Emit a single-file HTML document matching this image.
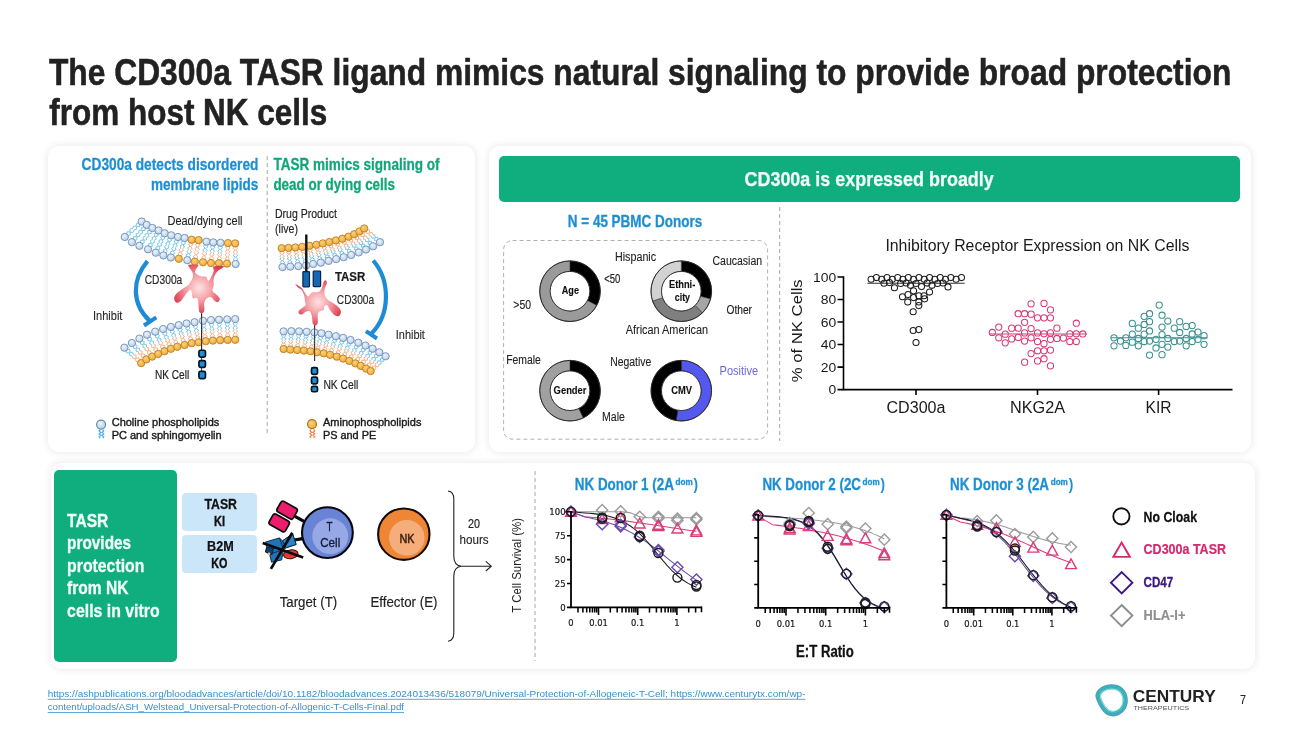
<!DOCTYPE html>
<html lang="en"><head><meta charset="utf-8"><title>The CD300a TASR ligand mimics natural signaling</title>
<style>
html,body{margin:0;padding:0;background:#fff}
body{width:1300px;height:731px;overflow:hidden;position:relative;font-family:"Liberation Sans",sans-serif}
.card{position:absolute;background:#fff;border-radius:11px;box-shadow:0 0 9px rgba(0,0,0,.10)}
.blk{position:absolute;background:#10ad7e;border-radius:5px}
.lb{position:absolute;background:#cbe6f9;border-radius:4px}
svg text{font-family:"Liberation Sans",sans-serif}
</style></head><body>
<div class="card" style="left:48.3px;top:146px;width:427.1px;height:305.5px"></div>
<div class="card" style="left:488.8px;top:146px;width:762.4px;height:305.5px"></div>
<div class="card" style="left:50.5px;top:462.8px;width:1204px;height:205.8px"></div>
<div class="blk" style="left:499px;top:156px;width:741px;height:46px"></div>
<div class="blk" style="left:54px;top:470px;width:123px;height:192px"></div>
<div class="lb" style="left:182.3px;top:493.2px;width:74.4px;height:37.5px"></div>
<div class="lb" style="left:182.3px;top:534.9px;width:74.4px;height:37.7px"></div>
<svg width="1300" height="731" viewBox="0 0 1300 731" style="position:absolute;left:0;top:0">
<defs>
<radialGradient id="gblob" cx="50%" cy="48%" r="55%">
<stop offset="0" stop-color="#fde3e3"/><stop offset="0.45" stop-color="#f6a3a8"/><stop offset="1" stop-color="#dd3c4e"/>
</radialGradient>
<radialGradient id="gblue" cx="40%" cy="35%" r="70%">
<stop offset="0" stop-color="#edf4fb"/><stop offset="1" stop-color="#b4cce6"/>
</radialGradient>
<radialGradient id="gor" cx="40%" cy="35%" r="70%">
<stop offset="0" stop-color="#fbd27a"/><stop offset="1" stop-color="#f0a630"/>
</radialGradient>
</defs>
<text x="48.9" y="84.8" font-size="37.3" font-weight="bold" fill="#222" textLength="1182.4" lengthAdjust="spacingAndGlyphs" stroke="#222" stroke-width="0.55">The CD300a TASR ligand mimics natural signaling to provide broad protection</text>
<text x="49.3" y="125.1" font-size="37.3" font-weight="bold" fill="#222" textLength="278" lengthAdjust="spacingAndGlyphs" stroke="#222" stroke-width="0.58">from host NK cells</text>
<text x="81.6" y="170.4" font-size="16.4" font-weight="bold" fill="#1d8fd1" textLength="176.8" lengthAdjust="spacingAndGlyphs" stroke="#1d8fd1" stroke-width="0.27">CD300a detects disordered</text>
<text x="151" y="189.7" font-size="16.4" font-weight="bold" fill="#1d8fd1" textLength="107.4" lengthAdjust="spacingAndGlyphs" stroke="#1d8fd1" stroke-width="0.29">membrane lipids</text>
<text x="273.4" y="170.4" font-size="16.4" font-weight="bold" fill="#12a67a" textLength="166.2" lengthAdjust="spacingAndGlyphs" stroke="#12a67a" stroke-width="0.28">TASR mimics signaling of</text>
<text x="273.4" y="189.7" font-size="16.4" font-weight="bold" fill="#12a67a" textLength="121.6" lengthAdjust="spacingAndGlyphs" stroke="#12a67a" stroke-width="0.3">dead or dying cells</text>
<line x1="267.2" y1="156" x2="267.2" y2="436" stroke="#a6a6a6" stroke-width="1" stroke-dasharray="4 3"/>
<path d="M140.02 224.33L139.38 226.68L136.52 226.59L136.35 229.46L133.96 229.89M138.74 222.93L136.34 223.36L136.18 226.23L133.31 226.14L132.67 228.49M145.37 227.91L145.04 230.3L142.19 230.55L142.39 233.4L140.08 234.1M143.93 226.68L141.62 227.38L141.81 230.23L138.97 230.48L138.63 232.87M151.31 231.1L151.21 233.45L148.44 233.84L148.9 236.6L146.7 237.41M149.77 229.98L147.57 230.79L148.04 233.55L145.27 233.95L145.17 236.29M157.88 233.71L158.08 236L155.41 236.67L156.22 239.31L154.15 240.33M156.23 232.78L154.16 233.79L154.97 236.43L152.3 237.1L152.5 239.39M164.25 236.56L164.65 238.8L162.05 239.67L163.09 242.2L161.13 243.36M162.52 235.77L160.56 236.92L161.6 239.46L159 240.33L159.4 242.57M170.95 238.58L171.47 240.82L168.92 241.86L170.1 244.35L168.2 245.65M169.17 237.89L167.28 239.19L168.46 241.68L165.91 242.72L166.43 244.96M177.87 240.29L178.47 242.52L175.95 243.67L177.22 246.13L175.36 247.51M176.07 239.67L174.22 241.05L175.48 243.51L172.97 244.66L173.57 246.89M184.67 241.29L185.41 243.47L182.97 244.76L184.39 247.13L182.63 248.61M182.84 240.78L181.08 242.26L182.49 244.63L180.06 245.92L180.8 248.1M206.91 244.96L207.89 246.97L205.61 248.43L207.28 250.56L205.69 252.13M205.04 244.65L203.45 246.22L205.12 248.35L202.84 249.8L203.82 251.81M213.89 245.64L214.99 247.57L212.8 249.13L214.59 251.14L213.1 252.78M212.01 245.43L210.51 247.07L212.3 249.08L210.12 250.64L211.21 252.57M221.3 246.01L222.46 247.88L220.33 249.48L222.18 251.4L220.75 253.06M219.41 245.87L217.97 247.53L219.83 249.44L217.7 251.05L218.85 252.91M126.48 234.17L127.12 231.82L129.98 231.91L130.15 229.04L132.54 228.61M127.76 235.57L130.16 235.14L130.32 232.27L133.19 232.36L133.83 230.01M133.23 239.19L133.56 236.8L136.41 236.55L136.21 233.7L138.52 233M134.67 240.42L136.98 239.72L136.79 236.87L139.63 236.62L139.97 234.23M140.49 242.7L140.59 240.35L143.36 239.96L142.9 237.2L145.1 236.39M142.03 243.82L144.23 243.01L143.76 240.25L146.53 239.85L146.63 237.51M148.72 246.09L148.52 243.8L151.19 243.13L150.38 240.49L152.45 239.47M150.37 247.02L152.44 246.01L151.63 243.37L154.3 242.7L154.1 240.41M156.25 249.44L155.85 247.2L158.45 246.33L157.41 243.8L159.37 242.64M157.98 250.23L159.94 249.08L158.9 246.54L161.5 245.67L161.1 243.43M163.65 252.12L163.13 249.88L165.68 248.84L164.5 246.35L166.4 245.05M165.43 252.81L167.32 251.51L166.14 249.02L168.69 247.98L168.17 245.74M171.03 254.21L170.43 251.98L172.95 250.83L171.68 248.37L173.54 246.99M172.83 254.83L174.68 253.45L173.42 250.99L175.93 249.84L175.33 247.61M187.03 256.92L186.14 254.86L188.48 253.5L186.91 251.29L188.57 249.78M188.89 257.32L190.54 255.81L188.97 253.6L191.31 252.24L190.42 250.18M234.59 260.87L233.25 259.11L235.22 257.29L233.19 255.54L234.45 253.74M236.49 260.83L237.75 259.02L235.72 257.28L237.68 255.46L236.35 253.7" fill="none" stroke="#6ec5ec" stroke-width="0.95" stroke-linejoin="round"/>
<path d="M191.97 242.98L192.86 245.04L190.52 246.4L192.09 248.61L190.43 250.12M190.11 242.58L188.46 244.09L190.03 246.3L187.69 247.66L188.58 249.72M199.07 243.37L200.01 245.5L197.69 247.04L199.32 249.3L197.69 250.96M197.2 243.03L195.58 244.7L197.2 246.95L194.89 248.49L195.83 250.63M228.8 246.29L230.01 248.13L227.92 249.8L229.83 251.67L228.45 253.38M226.9 246.2L225.51 247.91L227.42 249.78L225.34 251.45L226.55 253.29M236.21 246.53L237.55 248.29L235.58 250.11L237.61 251.86L236.35 253.66M234.31 246.57L233.05 248.38L235.08 250.12L233.12 251.94L234.45 253.7M178.73 255.51L177.99 253.33L180.43 252.04L179.01 249.67L180.77 248.19M180.56 256.02L182.32 254.54L180.91 252.17L183.34 250.88L182.6 248.7M194.43 258.33L193.49 256.2L195.81 254.66L194.18 252.4L195.81 250.74M196.3 258.67L197.92 257L196.3 254.75L198.61 253.21L197.67 251.07M202.59 259.04L201.61 257.03L203.89 255.57L202.22 253.44L203.81 251.87M204.46 259.35L206.05 257.78L204.38 255.65L206.66 254.2L205.68 252.19M210.41 259.76L209.31 257.83L211.5 256.27L209.71 254.26L211.2 252.62M212.29 259.97L213.79 258.33L212 256.32L214.18 254.76L213.09 252.83M218.3 259.99L217.14 258.12L219.27 256.52L217.42 254.6L218.85 252.94M220.19 260.13L221.63 258.47L219.77 256.56L221.9 254.95L220.75 253.09M226.2 260.41L224.99 258.57L227.08 256.9L225.17 255.03L226.55 253.32M228.1 260.5L229.49 258.79L227.58 256.92L229.66 255.25L228.45 253.41" fill="none" stroke="#f5ad82" stroke-width="0.95" stroke-linejoin="round"/>
<circle cx="141.7" cy="221.5" r="3.65" fill="url(#gblue)" stroke="#6f90b8" stroke-width="0.9"/>
<circle cx="146.7" cy="224.9" r="3.65" fill="url(#gblue)" stroke="#6f90b8" stroke-width="0.9"/>
<circle cx="152.4" cy="228" r="3.65" fill="url(#gblue)" stroke="#6f90b8" stroke-width="0.9"/>
<circle cx="158.6" cy="230.5" r="3.65" fill="url(#gblue)" stroke="#6f90b8" stroke-width="0.9"/>
<circle cx="164.7" cy="233.3" r="3.65" fill="url(#gblue)" stroke="#6f90b8" stroke-width="0.9"/>
<circle cx="171.2" cy="235.3" r="3.65" fill="url(#gblue)" stroke="#6f90b8" stroke-width="0.9"/>
<circle cx="178" cy="237" r="3.65" fill="url(#gblue)" stroke="#6f90b8" stroke-width="0.9"/>
<circle cx="184.6" cy="238" r="3.65" fill="url(#gblue)" stroke="#6f90b8" stroke-width="0.9"/>
<circle cx="191.7" cy="239.7" r="3.65" fill="url(#gor)" stroke="#b9802b" stroke-width="0.9"/>
<circle cx="198.7" cy="240.1" r="3.65" fill="url(#gor)" stroke="#b9802b" stroke-width="0.9"/>
<circle cx="206.5" cy="241.7" r="3.65" fill="url(#gblue)" stroke="#6f90b8" stroke-width="0.9"/>
<circle cx="213.3" cy="242.4" r="3.65" fill="url(#gblue)" stroke="#6f90b8" stroke-width="0.9"/>
<circle cx="220.6" cy="242.8" r="3.65" fill="url(#gblue)" stroke="#6f90b8" stroke-width="0.9"/>
<circle cx="228" cy="243.1" r="3.65" fill="url(#gor)" stroke="#b9802b" stroke-width="0.9"/>
<circle cx="235.2" cy="243.4" r="3.65" fill="url(#gor)" stroke="#b9802b" stroke-width="0.9"/>
<circle cx="124.8" cy="237" r="3.65" fill="url(#gblue)" stroke="#6f90b8" stroke-width="0.9"/>
<circle cx="131.9" cy="242.2" r="3.65" fill="url(#gblue)" stroke="#6f90b8" stroke-width="0.9"/>
<circle cx="139.4" cy="245.8" r="3.65" fill="url(#gblue)" stroke="#6f90b8" stroke-width="0.9"/>
<circle cx="148" cy="249.3" r="3.65" fill="url(#gblue)" stroke="#6f90b8" stroke-width="0.9"/>
<circle cx="155.8" cy="252.7" r="3.65" fill="url(#gblue)" stroke="#6f90b8" stroke-width="0.9"/>
<circle cx="163.4" cy="255.4" r="3.65" fill="url(#gblue)" stroke="#6f90b8" stroke-width="0.9"/>
<circle cx="170.9" cy="257.5" r="3.65" fill="url(#gblue)" stroke="#6f90b8" stroke-width="0.9"/>
<circle cx="178.8" cy="258.8" r="3.65" fill="url(#gor)" stroke="#b9802b" stroke-width="0.9"/>
<circle cx="187.3" cy="260.2" r="3.65" fill="url(#gblue)" stroke="#6f90b8" stroke-width="0.9"/>
<circle cx="194.8" cy="261.6" r="3.65" fill="url(#gor)" stroke="#b9802b" stroke-width="0.9"/>
<circle cx="203" cy="262.3" r="3.65" fill="url(#gor)" stroke="#b9802b" stroke-width="0.9"/>
<circle cx="211" cy="263" r="3.65" fill="url(#gor)" stroke="#b9802b" stroke-width="0.9"/>
<circle cx="219" cy="263.2" r="3.65" fill="url(#gor)" stroke="#b9802b" stroke-width="0.9"/>
<circle cx="227" cy="263.6" r="3.65" fill="url(#gor)" stroke="#b9802b" stroke-width="0.9"/>
<circle cx="235.6" cy="264" r="3.65" fill="url(#gblue)" stroke="#6f90b8" stroke-width="0.9"/>
<line x1="201.6" y1="312" x2="201.6" y2="352" stroke="#222" stroke-width="0.9"/>
<path d="M188.7 264.8C187.29 265.5 189.35 267.01 190.1 268.6C190.85 270.19 192.4 271.69 192.8 273.5C193.2 275.31 193 276.59 192.3 278.5C191.6 280.41 190.61 282.1 189 283.9C187.39 285.7 185.81 286.49 183.5 288.3C181.19 290.12 178.11 291.89 176.4 293.8C174.69 295.71 174.2 297.09 174.2 298.7C174.2 300.31 175.28 302.09 176.4 302.6C177.52 303.11 178.8 302.71 180.3 301.5C181.8 300.29 182.9 298.11 184.6 296C186.3 293.89 188.28 290.7 189.6 290C190.92 289.3 191.21 290.7 191.8 292.2C192.39 293.7 191.81 297.1 192.8 298.2C193.79 299.3 196.19 297.39 197.2 298.2C198.21 299.01 198.01 300.58 198.3 302.6C198.59 304.62 198.56 307.44 198.8 309.2C199.04 310.96 199.09 311.45 199.6 312.2C200.11 312.95 200.87 313.3 201.6 313.3C202.33 313.3 203.09 312.95 203.6 312.2C204.11 311.45 204.27 310.96 204.4 309.2C204.53 307.44 203.81 304.62 204.3 302.6C204.8 300.58 205.89 299.21 207.1 298.2C208.31 297.19 209.51 296.61 210.9 297.1C212.29 297.6 213.4 300 214.7 300.9C216 301.8 217.08 302.4 218 302C218.92 301.6 219.9 300 219.7 298.7C219.5 297.4 218.2 296.29 216.9 294.9C215.6 293.51 213.19 292.92 212.6 291.1C212.01 289.29 213.5 287.31 213.7 285C213.9 282.69 213.11 280.9 213.7 278.5C214.29 276.1 215.31 273.81 216.9 271.9C218.5 269.99 221.28 269.2 222.4 268.1C223.52 267 224.59 266.21 223 265.9C221.41 265.59 215.41 265.5 213.7 266.4C211.99 267.3 214.21 268.78 213.7 270.8C213.19 272.82 211.91 275.58 210.9 277.4C209.89 279.21 209.1 280.81 208.2 280.7C207.3 280.59 207.3 277.61 206 276.8C204.7 275.99 202.71 276.7 201.1 276.3C199.49 275.9 198.32 275.5 197.2 274.6C196.08 273.7 194.89 272.9 195 271.4C195.11 269.9 197.29 267.61 197.8 266.4C198.31 265.19 199.47 265.09 197.8 264.8C196.13 264.51 190.11 264.1 188.7 264.8Z" fill="url(#gblob)"/>
<path d="M127.36 349.13L129.75 349.55L129.9 352.4L132.75 352.31L133.38 354.64M126.08 350.53L126.71 352.87L129.56 352.77L129.71 355.62L132.1 356.04M134.69 344.74L136.94 345.33L136.71 348.1L139.48 348.23L139.78 350.53M133.26 345.99L133.56 348.3L136.33 348.43L136.1 351.2L138.35 351.79M142 340.62L144.19 341.46L143.7 344.21L146.46 344.65L146.54 347M140.45 341.72L140.53 344.07L143.29 344.5L142.8 347.26L144.99 348.1M149.41 336.94L151.53 337.99L150.79 340.71L153.52 341.4L153.39 343.76M147.77 337.9L147.64 340.26L150.36 340.96L149.63 343.67L151.75 344.72M157.41 334.13L159.41 335.29L158.42 337.87L161.04 338.72L160.69 341M155.7 334.95L155.34 337.23L157.97 338.08L156.98 340.66L158.97 341.82M165.14 331.58L167.03 332.84L165.85 335.31L168.4 336.31L167.87 338.52M163.37 332.28L162.84 334.49L165.39 335.49L164.21 337.96L166.1 339.21M172.77 329.71L174.57 331.03L173.22 333.36L175.68 334.46L175 336.58M170.96 330.29L170.28 332.41L172.74 333.51L171.4 335.85L173.19 337.17M180.51 327.95L182.27 329.29L180.86 331.58L183.29 332.72L182.55 334.81M178.69 328.49L177.95 330.58L180.38 331.72L178.98 334.01L180.73 335.35M188.31 326.31L190.01 327.68L188.51 329.88L190.89 331.08L190.07 333.1M186.47 326.79L185.65 328.81L188.03 330.01L186.53 332.21L188.23 333.58M196.16 325.1L197.79 326.57L196.18 328.71L198.5 330.05L197.58 332.05M194.3 325.48L193.38 327.47L195.69 328.81L194.09 330.95L195.72 332.42M204.37 323.79L205.9 325.38L204.16 327.42L206.38 328.91L205.34 330.85M202.49 324.05L201.44 325.99L203.67 327.49L201.93 329.52L203.46 331.11M212.24 323.15L213.7 324.8L211.87 326.76L214.02 328.35L212.89 330.24M210.34 323.32L209.21 325.22L211.37 326.81L209.54 328.77L211 330.42M220.13 322.79L221.53 324.49L219.64 326.37L221.74 328.03L220.55 329.88M218.24 322.9L217.04 324.75L219.14 326.4L217.25 328.29L218.65 329.99M228.23 322.53L229.57 324.27L227.61 326.09L229.66 327.81L228.4 329.61M226.33 322.57L225.07 324.38L227.11 326.1L225.16 327.92L226.5 329.66M236.15 322.25L237.45 324.04L235.45 325.84L237.45 327.63L236.15 329.43M234.25 322.25L232.95 324.04L234.95 325.84L232.95 327.63L234.25 329.43" fill="none" stroke="#6ec5ec" stroke-width="0.95" stroke-linejoin="round"/>
<path d="M138.24 361.67L135.85 361.25L135.7 358.4L132.85 358.49L132.22 356.16M139.52 360.27L138.89 357.93L136.04 358.03L135.89 355.18L133.5 354.76M143.51 357.66L141.26 357.07L141.49 354.3L138.72 354.17L138.42 351.87M144.94 356.41L144.64 354.1L141.87 353.97L142.1 351.2L139.85 350.61M149.6 354.58L147.41 353.74L147.9 350.99L145.14 350.55L145.06 348.2M151.15 353.48L151.07 351.13L148.31 350.7L148.8 347.94L146.61 347.1M155.79 351.66L153.67 350.61L154.41 347.89L151.68 347.2L151.81 344.84M157.43 350.7L157.56 348.34L154.84 347.64L155.57 344.93L153.45 343.88M162.29 348.77L160.29 347.61L161.28 345.03L158.66 344.18L159.01 341.9M164 347.95L164.36 345.67L161.73 344.82L162.72 342.24L160.73 341.08M168.86 346.22L166.97 344.96L168.15 342.49L165.6 341.49L166.13 339.28M170.63 345.52L171.16 343.31L168.61 342.31L169.79 339.84L167.9 338.59M175.43 344.09L173.63 342.77L174.98 340.44L172.52 339.34L173.2 337.22M177.24 343.51L177.92 341.39L175.46 340.29L176.8 337.95L175.01 336.63M182.79 342.25L181.03 340.91L182.44 338.62L180.01 337.48L180.75 335.39M184.61 341.71L185.35 339.62L182.92 338.48L184.32 336.19L182.57 334.85M189.99 340.39L188.29 339.02L189.79 336.82L187.41 335.62L188.23 333.6M191.83 339.91L192.65 337.89L190.27 336.69L191.77 334.49L190.07 333.12M197.14 339.4L195.51 337.93L197.12 335.79L194.8 334.45L195.72 332.45M199 339.02L199.92 337.03L197.61 335.69L199.21 333.55L197.58 332.08M204.43 338.21L202.9 336.62L204.64 334.58L202.42 333.09L203.46 331.15M206.31 337.95L207.36 336.01L205.13 334.51L206.87 332.48L205.34 330.89M211.66 337.55L210.2 335.9L212.03 333.94L209.88 332.35L211.01 330.46M213.56 337.38L214.69 335.48L212.53 333.89L214.36 331.93L212.9 330.28M219.07 337.11L217.67 335.41L219.56 333.53L217.46 331.87L218.65 330.02M220.96 337L222.16 335.15L220.06 333.5L221.95 331.61L220.55 329.91M226.67 336.77L225.33 335.03L227.29 333.21L225.24 331.49L226.5 329.69M228.57 336.73L229.83 334.92L227.79 333.2L229.74 331.38L228.4 329.64M234.25 336.65L232.95 334.86L234.95 333.06L232.95 331.27L234.25 329.47M236.15 336.65L237.45 334.86L235.45 333.06L237.45 331.27L236.15 329.47" fill="none" stroke="#f5ad82" stroke-width="0.95" stroke-linejoin="round"/>
<circle cx="124.4" cy="347.7" r="3.65" fill="url(#gblue)" stroke="#6f90b8" stroke-width="0.9"/>
<circle cx="131.9" cy="343" r="3.65" fill="url(#gblue)" stroke="#6f90b8" stroke-width="0.9"/>
<circle cx="139.4" cy="338.6" r="3.65" fill="url(#gblue)" stroke="#6f90b8" stroke-width="0.9"/>
<circle cx="147" cy="334.7" r="3.65" fill="url(#gblue)" stroke="#6f90b8" stroke-width="0.9"/>
<circle cx="155.2" cy="331.7" r="3.65" fill="url(#gblue)" stroke="#6f90b8" stroke-width="0.9"/>
<circle cx="163.1" cy="329" r="3.65" fill="url(#gblue)" stroke="#6f90b8" stroke-width="0.9"/>
<circle cx="170.9" cy="327" r="3.65" fill="url(#gblue)" stroke="#6f90b8" stroke-width="0.9"/>
<circle cx="178.7" cy="325.2" r="3.65" fill="url(#gblue)" stroke="#6f90b8" stroke-width="0.9"/>
<circle cx="186.6" cy="323.5" r="3.65" fill="url(#gblue)" stroke="#6f90b8" stroke-width="0.9"/>
<circle cx="194.6" cy="322.2" r="3.65" fill="url(#gblue)" stroke="#6f90b8" stroke-width="0.9"/>
<circle cx="203" cy="320.8" r="3.65" fill="url(#gblue)" stroke="#6f90b8" stroke-width="0.9"/>
<circle cx="211" cy="320.1" r="3.65" fill="url(#gblue)" stroke="#6f90b8" stroke-width="0.9"/>
<circle cx="219" cy="319.7" r="3.65" fill="url(#gblue)" stroke="#6f90b8" stroke-width="0.9"/>
<circle cx="227.2" cy="319.4" r="3.65" fill="url(#gblue)" stroke="#6f90b8" stroke-width="0.9"/>
<circle cx="235.2" cy="319.1" r="3.65" fill="url(#gblue)" stroke="#6f90b8" stroke-width="0.9"/>
<circle cx="141.2" cy="363.1" r="3.65" fill="url(#gor)" stroke="#b9802b" stroke-width="0.9"/>
<circle cx="146.3" cy="359.4" r="3.65" fill="url(#gor)" stroke="#b9802b" stroke-width="0.9"/>
<circle cx="152.2" cy="356.6" r="3.65" fill="url(#gor)" stroke="#b9802b" stroke-width="0.9"/>
<circle cx="158.2" cy="353.9" r="3.65" fill="url(#gor)" stroke="#b9802b" stroke-width="0.9"/>
<circle cx="164.5" cy="351.2" r="3.65" fill="url(#gor)" stroke="#b9802b" stroke-width="0.9"/>
<circle cx="170.9" cy="348.8" r="3.65" fill="url(#gor)" stroke="#b9802b" stroke-width="0.9"/>
<circle cx="177.3" cy="346.8" r="3.65" fill="url(#gor)" stroke="#b9802b" stroke-width="0.9"/>
<circle cx="184.6" cy="345" r="3.65" fill="url(#gor)" stroke="#b9802b" stroke-width="0.9"/>
<circle cx="191.7" cy="343.2" r="3.65" fill="url(#gor)" stroke="#b9802b" stroke-width="0.9"/>
<circle cx="198.7" cy="342.3" r="3.65" fill="url(#gor)" stroke="#b9802b" stroke-width="0.9"/>
<circle cx="205.8" cy="341.2" r="3.65" fill="url(#gor)" stroke="#b9802b" stroke-width="0.9"/>
<circle cx="212.9" cy="340.6" r="3.65" fill="url(#gor)" stroke="#b9802b" stroke-width="0.9"/>
<circle cx="220.2" cy="340.2" r="3.65" fill="url(#gor)" stroke="#b9802b" stroke-width="0.9"/>
<circle cx="227.7" cy="339.9" r="3.65" fill="url(#gor)" stroke="#b9802b" stroke-width="0.9"/>
<circle cx="235.2" cy="339.8" r="3.65" fill="url(#gor)" stroke="#b9802b" stroke-width="0.9"/>
<line x1="201.6" y1="314" x2="201.6" y2="372" stroke="#222" stroke-width="0.9"/>
<rect x="198.95" y="350.25" width="6.5" height="6.8" rx="1.6" fill="#1f8fd3" stroke="#07121f" stroke-width="1.7"/>
<rect x="198.95" y="360.65" width="6.5" height="6.8" rx="1.6" fill="#1f8fd3" stroke="#07121f" stroke-width="1.7"/>
<rect x="198.95" y="371.45" width="6.5" height="7.1" rx="1.6" fill="#1f8fd3" stroke="#07121f" stroke-width="1.7"/>
<path d="M147.5 261.2C131.5 280 131.5 304 150.2 321.4" fill="none" stroke="#1d8bd6" stroke-width="4.2"/>
<line x1="144" y1="325.5" x2="156.3" y2="317.3" stroke="#1d8bd6" stroke-width="4"/>
<text x="167.5" y="225" font-size="12.6" fill="#222" textLength="75" lengthAdjust="spacingAndGlyphs" stroke="#222" stroke-width="0.12">Dead/dying cell</text>
<text x="144.7" y="284.2" font-size="12.6" fill="#2a2a2a" textLength="37.6" lengthAdjust="spacingAndGlyphs" stroke="#2a2a2a" stroke-width="0.18">CD300a</text>
<text x="93" y="320.4" font-size="12.6" fill="#2a2a2a" textLength="29.4" lengthAdjust="spacingAndGlyphs" stroke="#2a2a2a" stroke-width="0.12">Inhibit</text>
<text x="154.9" y="378.8" font-size="12.6" fill="#222" textLength="34.3" lengthAdjust="spacingAndGlyphs" stroke="#222" stroke-width="0.19">NK Cell</text>
<path d="M102.63 429.6L103.8 431.03L102 432.47L103.8 433.9L102 435.33L103.8 436.77L102.63 438.2M100.17 429.6L99 431.03L100.8 432.47L99 433.9L100.8 435.33L99 436.77L100.17 438.2" fill="none" stroke="#43b3e6" stroke-width="1.15"/>
<circle cx="101.1" cy="424.6" r="4.5" fill="url(#gblue)" stroke="#6488b0" stroke-width="1.2"/>
<text x="111.7" y="425.7" font-size="10.8" fill="#1a1a1a" textLength="107.6" lengthAdjust="spacingAndGlyphs" stroke="#1a1a1a" stroke-width="0.38">Choline phospholipids</text>
<text x="111.7" y="438.9" font-size="10.8" fill="#1a1a1a" textLength="110" lengthAdjust="spacingAndGlyphs" stroke="#1a1a1a" stroke-width="0.38">PC and sphingomyelin</text>
<path d="M281.42 263.99L280.05 262.46L281.98 260.8L279.92 259.3L281.15 257.66M283.32 263.91L284.55 262.27L282.48 260.77L284.41 259.11L283.05 257.58M289.05 263.56L287.61 262.12L289.45 260.36L287.31 258.99L288.45 257.3M290.94 263.37L292.09 261.69L289.95 260.32L291.79 258.56L290.34 257.12M296.88 263.13L295.35 261.78L297.08 259.91L294.86 258.67L295.91 256.91M298.75 262.84L299.8 261.09L297.58 259.84L299.31 257.97L297.78 256.62M304.52 262.51L302.92 261.23L304.55 259.27L302.27 258.13L303.21 256.31M306.38 262.12L307.33 260.3L305.04 259.17L306.67 257.2L305.07 255.92M311.64 261.1L310.06 259.85L311.71 257.94L309.44 256.82L310.41 255.05M313.5 260.72L314.47 258.95L312.2 257.84L313.85 255.92L312.27 254.67M319.11 259.88L317.48 258.71L319.04 256.74L316.73 255.74L317.62 253.94M320.95 259.41L321.84 257.61L319.53 256.61L321.09 254.64L319.46 253.47M326.71 258.21L324.99 257.17L326.41 255.09L324.03 254.26L324.78 252.4M328.51 257.61L329.26 255.75L326.88 254.93L328.3 252.85L326.59 251.81M334.14 256.53L332.36 255.6L333.65 253.44L331.22 252.77L331.85 250.86M335.9 255.82L336.54 253.92L334.11 253.25L335.39 251.08L333.61 250.15M341.51 254.74L339.68 253.89L340.85 251.66L338.39 251.1L338.92 249.16M343.24 253.94L343.77 252L341.3 251.45L342.47 249.21L340.64 248.36M348.86 252.69L346.98 251.96L347.99 249.64L345.49 249.25L345.9 247.27M350.52 251.78L350.92 249.8L348.43 249.4L349.44 247.09L347.56 246.36M356.19 250.28L354.25 249.67L355.07 247.27L352.54 247.05L352.78 245.04M357.78 249.24L358.02 247.22L355.49 247L356.32 244.6L354.38 244M363.32 247.59L361.3 247.09L361.88 244.57L359.3 244.5L359.34 242.41M364.83 246.43L364.86 244.34L362.28 244.27L362.87 241.75L360.84 241.25M370.26 244.63L368.13 244.25L368.42 241.62L365.78 241.7L365.56 239.55M371.66 243.34L371.43 241.19L368.79 241.28L369.08 238.65L366.95 238.26M377 240.85L374.77 240.64L374.71 237.94L372.02 238.26L371.5 236.09M378.24 239.42L377.72 237.24L375.03 237.56L374.97 234.86L372.74 234.65" fill="none" stroke="#6ec5ec" stroke-width="0.95" stroke-linejoin="round"/>
<path d="M282.78 251.31L284.15 252.84L282.22 254.5L284.28 256L283.05 257.64M280.88 251.39L279.65 253.03L281.72 254.53L279.79 256.19L281.15 257.72M289.75 250.94L291.19 252.38L289.35 254.14L291.49 255.51L290.35 257.2M287.86 251.13L286.71 252.81L288.85 254.18L287.01 255.94L288.46 257.38M296.82 250.47L298.35 251.82L296.62 253.69L298.84 254.93L297.79 256.69M294.95 250.76L293.9 252.51L296.12 253.76L294.39 255.63L295.92 256.98M303.78 249.79L305.38 251.07L303.75 253.03L306.03 254.17L305.09 255.99M301.92 250.18L300.97 252L303.26 253.13L301.63 255.1L303.23 256.38M311.06 248.7L312.64 249.95L310.99 251.86L313.26 252.98L312.29 254.75M309.2 249.08L308.23 250.85L310.5 251.96L308.85 253.88L310.43 255.13M317.99 247.62L319.62 248.79L318.06 250.76L320.37 251.76L319.48 253.56M316.15 248.09L315.26 249.89L317.57 250.89L316.01 252.86L317.64 254.03M324.69 246.09L326.41 247.13L324.99 249.21L327.37 250.04L326.62 251.9M322.89 246.69L322.14 248.55L324.52 249.37L323.1 251.45L324.81 252.49M331.36 244.57L333.14 245.5L331.85 247.66L334.28 248.33L333.65 250.24M329.6 245.28L328.96 247.18L331.39 247.85L330.11 250.02L331.89 250.95M338.09 242.86L339.92 243.71L338.75 245.94L341.21 246.5L340.68 248.44M336.36 243.66L335.83 245.6L338.3 246.15L337.13 248.39L338.96 249.24M344.64 241.01L346.52 241.74L345.51 244.06L348.01 244.45L347.6 246.43M342.98 241.92L342.58 243.9L345.07 244.3L344.06 246.61L345.94 247.34M351.01 238.82L352.95 239.43L352.13 241.83L354.66 242.05L354.42 244.06M349.42 239.86L349.18 241.88L351.71 242.1L350.88 244.5L352.82 245.1M356.88 236.11L358.9 236.61L358.32 239.13L360.9 239.2L360.86 241.29M355.37 237.27L355.34 239.36L357.92 239.43L357.33 241.95L359.36 242.45M362.24 233.17L364.37 233.55L364.08 236.18L366.72 236.1L366.94 238.25M360.84 234.46L361.07 236.61L363.71 236.52L363.42 239.15L365.55 239.54M367.2 229.85L369.43 230.06L369.49 232.76L372.18 232.44L372.7 234.61M365.96 231.28L366.48 233.46L369.17 233.14L369.23 235.84L371.46 236.05" fill="none" stroke="#f5ad82" stroke-width="0.95" stroke-linejoin="round"/>
<circle cx="281.7" cy="248.2" r="3.65" fill="url(#gor)" stroke="#b9802b" stroke-width="0.9"/>
<circle cx="288.5" cy="247.9" r="3.65" fill="url(#gor)" stroke="#b9802b" stroke-width="0.9"/>
<circle cx="295.4" cy="247.5" r="3.65" fill="url(#gor)" stroke="#b9802b" stroke-width="0.9"/>
<circle cx="302.2" cy="246.9" r="3.65" fill="url(#gor)" stroke="#b9802b" stroke-width="0.9"/>
<circle cx="309.5" cy="245.8" r="3.65" fill="url(#gor)" stroke="#b9802b" stroke-width="0.9"/>
<circle cx="316.3" cy="244.8" r="3.65" fill="url(#gor)" stroke="#b9802b" stroke-width="0.9"/>
<circle cx="322.8" cy="243.4" r="3.65" fill="url(#gor)" stroke="#b9802b" stroke-width="0.9"/>
<circle cx="329.3" cy="242" r="3.65" fill="url(#gor)" stroke="#b9802b" stroke-width="0.9"/>
<circle cx="335.9" cy="240.4" r="3.65" fill="url(#gor)" stroke="#b9802b" stroke-width="0.9"/>
<circle cx="342.3" cy="238.7" r="3.65" fill="url(#gor)" stroke="#b9802b" stroke-width="0.9"/>
<circle cx="348.5" cy="236.7" r="3.65" fill="url(#gor)" stroke="#b9802b" stroke-width="0.9"/>
<circle cx="354.2" cy="234.2" r="3.65" fill="url(#gor)" stroke="#b9802b" stroke-width="0.9"/>
<circle cx="359.4" cy="231.5" r="3.65" fill="url(#gor)" stroke="#b9802b" stroke-width="0.9"/>
<circle cx="364.2" cy="228.5" r="3.65" fill="url(#gor)" stroke="#b9802b" stroke-width="0.9"/>
<circle cx="282.5" cy="267.1" r="3.65" fill="url(#gblue)" stroke="#6f90b8" stroke-width="0.9"/>
<circle cx="290.3" cy="266.6" r="3.65" fill="url(#gblue)" stroke="#6f90b8" stroke-width="0.9"/>
<circle cx="298.3" cy="266.1" r="3.65" fill="url(#gblue)" stroke="#6f90b8" stroke-width="0.9"/>
<circle cx="306.1" cy="265.4" r="3.65" fill="url(#gblue)" stroke="#6f90b8" stroke-width="0.9"/>
<circle cx="313.2" cy="264" r="3.65" fill="url(#gblue)" stroke="#6f90b8" stroke-width="0.9"/>
<circle cx="320.8" cy="262.7" r="3.65" fill="url(#gblue)" stroke="#6f90b8" stroke-width="0.9"/>
<circle cx="328.6" cy="260.9" r="3.65" fill="url(#gblue)" stroke="#6f90b8" stroke-width="0.9"/>
<circle cx="336.2" cy="259.1" r="3.65" fill="url(#gblue)" stroke="#6f90b8" stroke-width="0.9"/>
<circle cx="343.7" cy="257.2" r="3.65" fill="url(#gblue)" stroke="#6f90b8" stroke-width="0.9"/>
<circle cx="351.2" cy="255" r="3.65" fill="url(#gblue)" stroke="#6f90b8" stroke-width="0.9"/>
<circle cx="358.7" cy="252.4" r="3.65" fill="url(#gblue)" stroke="#6f90b8" stroke-width="0.9"/>
<circle cx="366" cy="249.5" r="3.65" fill="url(#gblue)" stroke="#6f90b8" stroke-width="0.9"/>
<circle cx="373.1" cy="246.3" r="3.65" fill="url(#gblue)" stroke="#6f90b8" stroke-width="0.9"/>
<circle cx="380" cy="242.2" r="3.65" fill="url(#gblue)" stroke="#6f90b8" stroke-width="0.9"/>
<line x1="306.3" y1="234.5" x2="306.3" y2="272" stroke="#111" stroke-width="2.4"/>
<line x1="314.6" y1="322" x2="314.6" y2="361" stroke="#222" stroke-width="0.9"/>
<path d="M295.3 284.1C295.39 283.83 297.09 284.95 298.3 285.7C299.51 286.45 300.67 286.9 301.9 288.2C303.13 289.5 303.86 291.3 305 292.8C306.14 294.3 306.87 296.4 308.1 296.4C309.33 296.4 310.29 293.55 311.7 292.8C313.11 292.05 314.39 292.57 315.8 292.3C317.21 292.03 318.28 292.14 319.4 291.3C320.52 290.46 321.15 289.39 321.9 287.7C322.65 286.01 322.84 283.46 323.5 282.1C324.16 280.74 324.88 280.12 325.5 280.3C326.12 280.48 326.99 281.65 326.9 283.1C326.81 284.55 325.44 286.22 325 288.2C324.56 290.18 324.02 291.83 324.5 293.9C324.98 295.97 326.19 297.9 327.6 299.5C329.01 301.1 330.22 301.19 332.2 302.6C334.18 304.01 336.81 305.51 338.4 307.2C339.99 308.89 340.81 310.21 340.9 311.8C340.99 313.39 340.11 315.33 338.9 315.9C337.69 316.47 335.89 315.93 334.3 314.9C332.71 313.87 331.52 312.08 330.2 310.3C328.88 308.52 328.15 305.95 327.1 305.2C326.06 304.45 325.16 305.26 324.5 306.2C323.84 307.13 324.34 309.37 323.5 310.3C322.66 311.24 320.94 310.55 319.9 311.3C318.85 312.05 318.17 312.55 317.8 314.4C317.43 316.25 318.05 319.53 317.9 321.4C317.75 323.27 317.48 323.83 317 324.6C316.52 325.37 315.94 325.6 315.3 325.6C314.66 325.6 314.01 325.22 313.5 324.6C312.99 323.98 312.79 323.7 312.5 322.2C312.21 320.7 312.43 318.4 311.9 316.4C311.37 314.4 310.68 312.14 309.6 311.3C308.52 310.46 307.41 311.23 306 311.8C304.59 312.37 303.2 314.11 301.9 314.4C300.6 314.69 299.45 314.06 298.9 313.4C298.35 312.74 298.35 311.75 298.9 310.8C299.45 309.85 300.69 309.23 301.9 308.2C303.11 307.17 304.93 306.5 305.5 305.2C306.07 303.9 305.27 302.99 305 301.1C304.73 299.21 304.66 296.97 304 294.9C303.34 292.83 302.54 291.21 301.4 289.8C300.26 288.39 298.92 288.25 297.8 287.2C296.68 286.15 295.21 284.38 295.3 284.1Z" fill="url(#gblob)"/>
<rect x="302.9" y="271.6" width="6.6" height="15.2" rx="0.8" fill="#1668b4" stroke="#0b2440" stroke-width="1.2"/>
<rect x="313.2" y="271" width="7.4" height="15.6" rx="0.8" fill="#1668b4" stroke="#0b2440" stroke-width="1.2"/>
<path d="M284.55 334.55L285.85 335.98L283.85 337.41L285.85 338.84L284.55 340.27M282.65 334.55L281.35 335.98L283.35 337.41L281.35 338.84L282.65 340.27M292.16 334.4L293.37 336L291.28 337.41L293.18 339.06L291.8 340.5M290.26 334.29L288.87 335.74L290.78 337.38L288.69 338.79L289.9 340.39M299.72 334.63L300.86 336.31L298.71 337.66L300.54 339.42L299.09 340.84M297.83 334.44L296.38 335.86L298.21 337.61L296.07 338.96L297.2 340.64M307.18 335.06L308.23 336.83L306.01 338.11L307.76 339.98L306.24 341.37M305.3 334.78L303.78 336.16L305.52 338.04L303.31 339.32L304.36 341.09M314.71 335.68L315.66 337.53L313.38 338.73L315.02 340.72L313.43 342.06M312.85 335.3L311.25 336.64L312.89 338.63L310.61 339.83L311.56 341.68M321.71 336.58L322.61 338.49L320.29 339.65L321.86 341.71L320.22 343.03M319.86 336.15L318.22 337.47L319.8 339.54L317.48 340.7L318.37 342.6M328.74 337.99L329.59 339.89L327.25 340.97L328.78 343.05L327.11 344.31M326.9 337.51L325.23 338.77L326.76 340.85L324.42 341.93L325.27 343.83M335.87 339.49L336.62 341.45L334.22 342.44L335.64 344.61L333.9 345.8M334.06 338.92L332.32 340.11L333.74 342.29L331.34 343.27L332.09 345.23M343 341.19L343.69 343.21L341.26 344.18L342.62 346.42L340.85 347.61M341.2 340.58L339.43 341.78L340.79 344.02L338.35 344.99L339.05 347M350.3 343.28L350.87 345.36L348.37 346.2L349.58 348.55L347.73 349.65M348.54 342.57L346.69 343.67L347.9 346.02L345.41 346.86L345.97 348.94M357.76 345.94L358.15 348.09L355.58 348.77L356.6 351.22L354.66 352.21M356.05 345.1L354.11 346.09L355.13 348.55L352.56 349.23L352.95 351.37M364.77 348.81L365.03 350.99L362.42 351.54L363.29 354.06L361.28 354.96M363.12 347.87L361.12 348.77L361.98 351.29L359.37 351.84L359.63 354.02M371.6 351.83L371.65 354.07L368.97 354.43L369.6 357.06L367.5 357.82M370.03 350.76L367.94 351.52L368.56 354.15L365.89 354.51L365.93 356.74M378.06 355.35L377.92 357.58L375.21 357.74L375.62 360.42L373.46 361.03M376.58 354.15L374.42 354.75L374.82 357.43L372.12 357.59L371.98 359.83M384.03 359.19L383.65 361.41L380.94 361.28L381.06 363.99L378.84 364.35M382.7 357.85L380.48 358.21L380.59 360.92L377.88 360.79L377.5 363" fill="none" stroke="#6ec5ec" stroke-width="0.95" stroke-linejoin="round"/>
<path d="M282.65 345.85L281.35 344.42L283.35 342.99L281.35 341.56L282.65 340.13M284.55 345.85L285.85 344.42L283.85 342.99L285.85 341.56L284.55 340.13M289.54 346.4L288.33 344.8L290.42 343.39L288.52 341.74L289.9 340.3M291.44 346.51L292.83 345.06L290.92 343.42L293.01 342.01L291.8 340.41M296.58 346.77L295.44 345.09L297.59 343.74L295.76 341.98L297.21 340.56M298.47 346.96L299.92 345.54L298.09 343.79L300.23 342.44L299.1 340.76M303.42 347.34L302.37 345.57L304.59 344.29L302.84 342.42L304.36 341.03M305.3 347.62L306.82 346.24L305.08 344.36L307.29 343.08L306.24 341.31M310.29 348.02L309.34 346.17L311.62 344.97L309.98 342.98L311.57 341.64M312.15 348.4L313.75 347.06L312.11 345.07L314.39 343.87L313.44 342.02M316.89 349.02L315.99 347.11L318.31 345.95L316.74 343.89L318.38 342.57M318.74 349.45L320.38 348.13L318.8 346.06L321.12 344.9L320.23 343M323.66 350.11L322.81 348.21L325.15 347.13L323.62 345.05L325.29 343.79M325.5 350.59L327.17 349.33L325.64 347.25L327.98 346.17L327.13 344.27M330.13 351.51L329.38 349.55L331.78 348.56L330.36 346.39L332.1 345.2M331.94 352.08L333.68 350.89L332.26 348.71L334.66 347.73L333.91 345.77M336.9 353.41L336.21 351.39L338.64 350.42L337.28 348.18L339.05 346.99M338.7 354.02L340.47 352.82L339.11 350.58L341.55 349.61L340.85 347.6M343.4 355.32L342.83 353.24L345.33 352.4L344.12 350.05L345.97 348.95M345.16 356.03L347.01 354.93L345.8 352.58L348.29 351.74L347.73 349.66M349.84 357.66L349.45 355.51L352.02 354.83L351 352.38L352.94 351.39M351.55 358.5L353.49 357.51L352.47 355.05L355.04 354.37L354.65 352.23M356.13 360.19L355.87 358.01L358.48 357.46L357.61 354.94L359.62 354.04M357.78 361.13L359.78 360.23L358.92 357.71L361.53 357.16L361.27 354.98M361.8 362.77L361.75 360.53L364.43 360.17L363.8 357.54L365.9 356.78M363.37 363.84L365.46 363.08L364.84 360.45L367.51 360.09L367.47 357.86M367.34 365.55L367.48 363.32L370.19 363.16L369.78 360.48L371.94 359.87M368.82 366.75L370.98 366.15L370.58 363.47L373.28 363.31L373.42 361.07M372.27 368.21L372.65 365.99L375.36 366.12L375.24 363.41L377.46 363.05M373.6 369.55L375.82 369.19L375.71 366.48L378.42 366.61L378.8 364.4" fill="none" stroke="#f5ad82" stroke-width="0.95" stroke-linejoin="round"/>
<circle cx="283.6" cy="331.4" r="3.65" fill="url(#gblue)" stroke="#6f90b8" stroke-width="0.9"/>
<circle cx="291.4" cy="331.2" r="3.65" fill="url(#gblue)" stroke="#6f90b8" stroke-width="0.9"/>
<circle cx="299.1" cy="331.4" r="3.65" fill="url(#gblue)" stroke="#6f90b8" stroke-width="0.9"/>
<circle cx="306.7" cy="331.8" r="3.65" fill="url(#gblue)" stroke="#6f90b8" stroke-width="0.9"/>
<circle cx="314.4" cy="332.4" r="3.65" fill="url(#gblue)" stroke="#6f90b8" stroke-width="0.9"/>
<circle cx="321.5" cy="333.3" r="3.65" fill="url(#gblue)" stroke="#6f90b8" stroke-width="0.9"/>
<circle cx="328.6" cy="334.7" r="3.65" fill="url(#gblue)" stroke="#6f90b8" stroke-width="0.9"/>
<circle cx="335.9" cy="336.2" r="3.65" fill="url(#gblue)" stroke="#6f90b8" stroke-width="0.9"/>
<circle cx="343.1" cy="337.9" r="3.65" fill="url(#gblue)" stroke="#6f90b8" stroke-width="0.9"/>
<circle cx="350.6" cy="340" r="3.65" fill="url(#gblue)" stroke="#6f90b8" stroke-width="0.9"/>
<circle cx="358.3" cy="342.7" r="3.65" fill="url(#gblue)" stroke="#6f90b8" stroke-width="0.9"/>
<circle cx="365.5" cy="345.6" r="3.65" fill="url(#gblue)" stroke="#6f90b8" stroke-width="0.9"/>
<circle cx="372.6" cy="348.7" r="3.65" fill="url(#gblue)" stroke="#6f90b8" stroke-width="0.9"/>
<circle cx="379.3" cy="352.3" r="3.65" fill="url(#gblue)" stroke="#6f90b8" stroke-width="0.9"/>
<circle cx="385.6" cy="356.3" r="3.65" fill="url(#gblue)" stroke="#6f90b8" stroke-width="0.9"/>
<circle cx="283.6" cy="349" r="3.65" fill="url(#gor)" stroke="#b9802b" stroke-width="0.9"/>
<circle cx="290.3" cy="349.6" r="3.65" fill="url(#gor)" stroke="#b9802b" stroke-width="0.9"/>
<circle cx="297.2" cy="350" r="3.65" fill="url(#gor)" stroke="#b9802b" stroke-width="0.9"/>
<circle cx="303.9" cy="350.6" r="3.65" fill="url(#gor)" stroke="#b9802b" stroke-width="0.9"/>
<circle cx="310.6" cy="351.3" r="3.65" fill="url(#gor)" stroke="#b9802b" stroke-width="0.9"/>
<circle cx="317.1" cy="352.3" r="3.65" fill="url(#gor)" stroke="#b9802b" stroke-width="0.9"/>
<circle cx="323.8" cy="353.4" r="3.65" fill="url(#gor)" stroke="#b9802b" stroke-width="0.9"/>
<circle cx="330.1" cy="354.8" r="3.65" fill="url(#gor)" stroke="#b9802b" stroke-width="0.9"/>
<circle cx="336.8" cy="356.7" r="3.65" fill="url(#gor)" stroke="#b9802b" stroke-width="0.9"/>
<circle cx="343.1" cy="358.6" r="3.65" fill="url(#gor)" stroke="#b9802b" stroke-width="0.9"/>
<circle cx="349.3" cy="360.9" r="3.65" fill="url(#gor)" stroke="#b9802b" stroke-width="0.9"/>
<circle cx="355.4" cy="363.4" r="3.65" fill="url(#gor)" stroke="#b9802b" stroke-width="0.9"/>
<circle cx="360.8" cy="365.9" r="3.65" fill="url(#gor)" stroke="#b9802b" stroke-width="0.9"/>
<circle cx="366.1" cy="368.6" r="3.65" fill="url(#gor)" stroke="#b9802b" stroke-width="0.9"/>
<circle cx="370.7" cy="371.1" r="3.65" fill="url(#gor)" stroke="#b9802b" stroke-width="0.9"/>
<line x1="314.6" y1="326" x2="314.6" y2="361" stroke="#333" stroke-width="0.9"/>
<rect x="311.5" y="367.55" width="6" height="6.9" rx="1.6" fill="#1f8fd3" stroke="#07121f" stroke-width="1.7"/>
<rect x="311.5" y="377.15" width="6" height="6.7" rx="1.6" fill="#1f8fd3" stroke="#07121f" stroke-width="1.7"/>
<rect x="311.5" y="386.35" width="6" height="5.4" rx="1.6" fill="#1f8fd3" stroke="#07121f" stroke-width="1.7"/>
<path d="M373.2 260.5C390 280 391 314 371.3 333.7" fill="none" stroke="#1d8bd6" stroke-width="4.2"/>
<line x1="365.9" y1="331.2" x2="377" y2="338.5" stroke="#1d8bd6" stroke-width="4"/>
<text x="275" y="217.5" font-size="12.6" fill="#222" textLength="62" lengthAdjust="spacingAndGlyphs" stroke="#222" stroke-width="0.16">Drug Product</text>
<text x="275" y="232.5" font-size="12.6" fill="#222" textLength="23" lengthAdjust="spacingAndGlyphs" stroke="#222" stroke-width="0.15">(live)</text>
<text x="334.9" y="280.7" font-size="13.4" font-weight="bold" fill="#1a1a1a" textLength="30.4" lengthAdjust="spacingAndGlyphs" stroke="#1a1a1a" stroke-width="0.19">TASR</text>
<text x="336.8" y="303.5" font-size="12.6" fill="#2a2a2a" textLength="37.4" lengthAdjust="spacingAndGlyphs" stroke="#2a2a2a" stroke-width="0.18">CD300a</text>
<text x="395.8" y="338.9" font-size="12.6" fill="#2a2a2a" textLength="29.1" lengthAdjust="spacingAndGlyphs" stroke="#2a2a2a" stroke-width="0.13">Inhibit</text>
<text x="323.4" y="389.3" font-size="12.6" fill="#222" textLength="34.9" lengthAdjust="spacingAndGlyphs" stroke="#222" stroke-width="0.17">NK Cell</text>
<path d="M313.63 429.4L314.8 430.83L313 432.27L314.8 433.7L313 435.13L314.8 436.57L313.63 438M311.17 429.4L310 430.83L311.8 432.27L310 433.7L311.8 435.13L310 436.57L311.17 438" fill="none" stroke="#ee8546" stroke-width="1.15"/>
<circle cx="312" cy="424.1" r="4.5" fill="url(#gor)" stroke="#ad7526" stroke-width="1.2"/>
<text x="323" y="425.8" font-size="10.8" fill="#1a1a1a" textLength="98.4" lengthAdjust="spacingAndGlyphs" stroke="#1a1a1a" stroke-width="0.38">Aminophospholipids</text>
<text x="323" y="438.5" font-size="10.8" fill="#1a1a1a" textLength="53.2" lengthAdjust="spacingAndGlyphs" stroke="#1a1a1a" stroke-width="0.38">PS and PE</text>
<text x="744.5" y="185.6" font-size="20.4" font-weight="bold" fill="#f0fff8" textLength="249.3" lengthAdjust="spacingAndGlyphs" stroke="#f0fff8" stroke-width="0.25">CD300a is expressed broadly</text>
<text x="567.8" y="227.4" font-size="16.6" font-weight="bold" fill="#1d8fd1" textLength="134.4" lengthAdjust="spacingAndGlyphs" stroke="#1d8fd1" stroke-width="0.31">N = 45 PBMC Donors</text>
<rect x="503.6" y="240.5" width="264" height="198.7" rx="9" fill="none" stroke="#a8a8a8" stroke-width="0.9" stroke-dasharray="4 3"/>
<line x1="779.7" y1="207" x2="779.7" y2="441" stroke="#a6a6a6" stroke-width="1" stroke-dasharray="4 3"/>
<path d="M570 260.9A30.3 30.3 0 0 1 596.75 305.42L587.48 300.5A19.8 19.8 0 0 0 570 271.4Z" fill="#000" stroke="#222" stroke-width="0.5"/>
<path d="M596.75 305.42A30.3 30.3 0 1 1 570 260.9L570 271.4A19.8 19.8 0 1 0 587.48 300.5Z" fill="#9a9a9a" stroke="#222" stroke-width="0.5"/>
<circle cx="570" cy="291.2" r="30.3" fill="none" stroke="#222" stroke-width="0.9"/>
<circle cx="570" cy="291.2" r="19.8" fill="#fff" stroke="#222" stroke-width="0.9"/>
<path d="M681.3 260.9A30.3 30.3 0 0 1 710.57 299.04L700.43 296.32A19.8 19.8 0 0 0 681.3 271.4Z" fill="#000" stroke="#222" stroke-width="0.5"/>
<path d="M710.57 299.04A30.3 30.3 0 0 1 702.35 313L695.05 305.44A19.8 19.8 0 0 0 700.43 296.32Z" fill="#a6a6a6" stroke="#222" stroke-width="0.5"/>
<path d="M702.35 313A30.3 30.3 0 0 1 652.65 301.06L662.58 297.65A19.8 19.8 0 0 0 695.05 305.44Z" fill="#7f7f7f" stroke="#222" stroke-width="0.5"/>
<path d="M652.65 301.06A30.3 30.3 0 0 1 681.3 260.9L681.3 271.4A19.8 19.8 0 0 0 662.58 297.65Z" fill="#d2d2d2" stroke="#222" stroke-width="0.5"/>
<circle cx="681.3" cy="291.2" r="30.3" fill="none" stroke="#222" stroke-width="0.9"/>
<circle cx="681.3" cy="291.2" r="19.8" fill="#fff" stroke="#222" stroke-width="0.9"/>
<path d="M570 360.4A30.3 30.3 0 0 1 583.28 417.93L578.68 408.5A19.8 19.8 0 0 0 570 370.9Z" fill="#000" stroke="#222" stroke-width="0.5"/>
<path d="M583.28 417.93A30.3 30.3 0 1 1 570 360.4L570 370.9A19.8 19.8 0 1 0 578.68 408.5Z" fill="#a0a0a0" stroke="#222" stroke-width="0.5"/>
<circle cx="570" cy="390.7" r="30.3" fill="none" stroke="#222" stroke-width="0.9"/>
<circle cx="570" cy="390.7" r="19.8" fill="#fff" stroke="#222" stroke-width="0.9"/>
<path d="M681.3 360.4A30.3 30.3 0 1 1 676.04 420.54L677.86 410.2A19.8 19.8 0 1 0 681.3 370.9Z" fill="#5358ef" stroke="#222" stroke-width="0.5"/>
<path d="M676.04 420.54A30.3 30.3 0 0 1 681.3 360.4L681.3 370.9A19.8 19.8 0 0 0 677.86 410.2Z" fill="#000" stroke="#222" stroke-width="0.5"/>
<circle cx="681.3" cy="390.7" r="30.3" fill="none" stroke="#222" stroke-width="0.9"/>
<circle cx="681.3" cy="390.7" r="19.8" fill="#fff" stroke="#222" stroke-width="0.9"/>
<text x="561.8" y="293.9" font-size="10.6" font-weight="bold" fill="#111" textLength="17.2" lengthAdjust="spacingAndGlyphs" stroke="#111" stroke-width="0.15">Age</text>
<text x="669" y="288.4" font-size="10.6" font-weight="bold" fill="#111" textLength="26.3" lengthAdjust="spacingAndGlyphs" stroke="#111" stroke-width="0.13">Ethni-</text>
<text x="674.8" y="300.8" font-size="10.6" font-weight="bold" fill="#111" textLength="15.2" lengthAdjust="spacingAndGlyphs" stroke="#111" stroke-width="0.18">city</text>
<text x="553.6" y="393.7" font-size="10.6" font-weight="bold" fill="#111" textLength="32.9" lengthAdjust="spacingAndGlyphs" stroke="#111" stroke-width="0.12">Gender</text>
<text x="671.2" y="393.7" font-size="10.6" font-weight="bold" fill="#111" textLength="20.8" lengthAdjust="spacingAndGlyphs" stroke="#111" stroke-width="0.12">CMV</text>
<text x="615" y="261" font-size="12" fill="#222" textLength="41.1" lengthAdjust="spacingAndGlyphs" stroke="#222" stroke-width="0.1">Hispanic</text>
<text x="712.5" y="264.9" font-size="12" fill="#222" textLength="49.6" lengthAdjust="spacingAndGlyphs" stroke="#222" stroke-width="0.11">Caucasian</text>
<text x="604.2" y="283" font-size="12" fill="#222" textLength="16.1" lengthAdjust="spacingAndGlyphs" stroke="#222" stroke-width="0.19">&lt;50</text>
<text x="513.3" y="308.8" font-size="12" fill="#222" textLength="17.7" lengthAdjust="spacingAndGlyphs" stroke="#222" stroke-width="0.12">&gt;50</text>
<text x="726.5" y="313.8" font-size="12" fill="#222" textLength="25.5" lengthAdjust="spacingAndGlyphs" stroke="#222" stroke-width="0.14">Other</text>
<text x="625.7" y="333.6" font-size="12" fill="#222" textLength="82.5" lengthAdjust="spacingAndGlyphs" stroke="#222" stroke-width="0.08">African American</text>
<text x="506.2" y="363.8" font-size="12" fill="#222" textLength="34.7" lengthAdjust="spacingAndGlyphs" stroke="#222" stroke-width="0.12">Female</text>
<text x="610.2" y="365.5" font-size="12" fill="#222" textLength="41" lengthAdjust="spacingAndGlyphs" stroke="#222" stroke-width="0.12">Negative</text>
<text x="719.6" y="374.5" font-size="12" fill="#6a68d6" textLength="38.6" lengthAdjust="spacingAndGlyphs">Positive</text>
<text x="602" y="421.3" font-size="12" fill="#222" textLength="22.9" lengthAdjust="spacingAndGlyphs" stroke="#222" stroke-width="0.11">Male</text>
<text x="885.4" y="250.9" font-size="15.9" fill="#1a1a1a" textLength="304.1" lengthAdjust="spacingAndGlyphs">Inhibitory Receptor Expression on NK Cells</text>
<path d="M843.5 276.2V389.6H1232.5" fill="none" stroke="#000" stroke-width="1.6"/>
<text x="836.3" y="394.2" font-size="13" text-anchor="end" fill="#1a1a1a" textLength="7.75" lengthAdjust="spacingAndGlyphs">0</text>
<text x="836.3" y="371.68" font-size="13" text-anchor="end" fill="#1a1a1a" textLength="15.5" lengthAdjust="spacingAndGlyphs">20</text>
<text x="836.3" y="349.16" font-size="13" text-anchor="end" fill="#1a1a1a" textLength="15.5" lengthAdjust="spacingAndGlyphs">40</text>
<text x="836.3" y="326.64" font-size="13" text-anchor="end" fill="#1a1a1a" textLength="15.5" lengthAdjust="spacingAndGlyphs">60</text>
<text x="836.3" y="304.12" font-size="13" text-anchor="end" fill="#1a1a1a" textLength="15.5" lengthAdjust="spacingAndGlyphs">80</text>
<text x="836.3" y="281.6" font-size="13" text-anchor="end" fill="#1a1a1a" textLength="23.25" lengthAdjust="spacingAndGlyphs">100</text>
<path d="M837.5 389.6H843.5M837.5 367.08H843.5M837.5 344.56H843.5M837.5 322.04H843.5M837.5 299.52H843.5M837.5 277H843.5M916 389.6V395.1M1037.5 389.6V395.1M1158.6 389.6V395.1" fill="none" stroke="#000" stroke-width="1.6"/>
<text transform="translate(801.9 330.8) rotate(-90)" text-anchor="middle" font-size="14.6" fill="#1a1a1a" textLength="103" lengthAdjust="spacingAndGlyphs">% of NK Cells</text>
<text x="916" y="412.5" font-size="16" text-anchor="middle" fill="#1a1a1a" textLength="59" lengthAdjust="spacingAndGlyphs">CD300a</text>
<text x="1037.5" y="412.5" font-size="16" text-anchor="middle" fill="#1a1a1a" textLength="55" lengthAdjust="spacingAndGlyphs">NKG2A</text>
<text x="1158.6" y="412.5" font-size="16" text-anchor="middle" fill="#1a1a1a" textLength="26" lengthAdjust="spacingAndGlyphs">KIR</text>
<line x1="867.4" y1="283.2" x2="964.6" y2="283.2" stroke="#333" stroke-width="1.1"/>
<g fill="none" stroke="#1e1e1e" stroke-width="1.05"><circle cx="871.08" cy="279.28" r="3.05"/><circle cx="876.39" cy="277.55" r="3.05"/><circle cx="881.71" cy="279.28" r="3.05"/><circle cx="887.03" cy="277.55" r="3.05"/><circle cx="892.34" cy="279.28" r="3.05"/><circle cx="897.66" cy="277.55" r="3.05"/><circle cx="902.98" cy="279.28" r="3.05"/><circle cx="908.3" cy="277.55" r="3.05"/><circle cx="913.61" cy="279.28" r="3.05"/><circle cx="918.93" cy="277.55" r="3.05"/><circle cx="924.25" cy="279.28" r="3.05"/><circle cx="929.56" cy="277.55" r="3.05"/><circle cx="934.88" cy="279.28" r="3.05"/><circle cx="940.2" cy="277.55" r="3.05"/><circle cx="945.51" cy="279.28" r="3.05"/><circle cx="950.83" cy="277.55" r="3.05"/><circle cx="956.15" cy="279.28" r="3.05"/><circle cx="961.46" cy="277.55" r="3.05"/><circle cx="884" cy="283.22" r="3.05"/><circle cx="889.54" cy="282.6" r="3.05"/><circle cx="900.62" cy="283.46" r="3.05"/><circle cx="906.15" cy="282.97" r="3.05"/><circle cx="916" cy="283.46" r="3.05"/><circle cx="927.08" cy="283.09" r="3.05"/><circle cx="937.54" cy="283.46" r="3.05"/><circle cx="943.08" cy="282.97" r="3.05"/><circle cx="894.46" cy="287.77" r="3.05"/><circle cx="910.46" cy="285.31" r="3.05"/><circle cx="921.54" cy="286.54" r="3.05"/><circle cx="932" cy="285.31" r="3.05"/><circle cx="948" cy="286.91" r="3.05"/><circle cx="913.54" cy="290.85" r="3.05"/><circle cx="929.54" cy="292.08" r="3.05"/><circle cx="902.46" cy="296.75" r="3.05"/><circle cx="908" cy="294.54" r="3.05"/><circle cx="913.54" cy="297.62" r="3.05"/><circle cx="918.83" cy="295.77" r="3.05"/><circle cx="924" cy="295.77" r="3.05"/><circle cx="924.62" cy="298.85" r="3.05"/><circle cx="907.75" cy="301.92" r="3.05"/><circle cx="918.83" cy="301.92" r="3.05"/><circle cx="918.83" cy="305.62" r="3.05"/><circle cx="913.17" cy="311.77" r="3.05"/><circle cx="913.17" cy="330.48" r="3.05"/><circle cx="918.83" cy="329.62" r="3.05"/><circle cx="916" cy="342.54" r="3.05"/></g>
<line x1="989" y1="334" x2="1087" y2="334" stroke="#d63a78" stroke-width="1.1"/>
<g fill="none" stroke="#d63a78" stroke-width="1.05"><circle cx="1031.07" cy="303.81" r="3.1"/><circle cx="1044" cy="303.38" r="3.1"/><circle cx="1050.46" cy="309.84" r="3.1"/><circle cx="1018.15" cy="313.72" r="3.1"/><circle cx="1024.61" cy="313.72" r="3.1"/><circle cx="1031.07" cy="314.15" r="3.1"/><circle cx="1037.54" cy="317.81" r="3.1"/><circle cx="1044" cy="317.81" r="3.1"/><circle cx="1050.46" cy="317.81" r="3.1"/><circle cx="1024.61" cy="322.34" r="3.1"/><circle cx="1076.3" cy="323.2" r="3.1"/><circle cx="998.77" cy="327.08" r="3.1"/><circle cx="1011.69" cy="328.15" r="3.1"/><circle cx="1018.15" cy="328.15" r="3.1"/><circle cx="1031.07" cy="328.58" r="3.1"/><circle cx="1056.92" cy="328.15" r="3.1"/><circle cx="992.31" cy="332.46" r="3.1"/><circle cx="1005.23" cy="334.18" r="3.1"/><circle cx="1024.61" cy="332.89" r="3.1"/><circle cx="1037.54" cy="332.89" r="3.1"/><circle cx="1044" cy="333.75" r="3.1"/><circle cx="1050.46" cy="332.89" r="3.1"/><circle cx="1069.84" cy="333.75" r="3.1"/><circle cx="1076.3" cy="333.75" r="3.1"/><circle cx="1082.77" cy="333.97" r="3.1"/><circle cx="998.77" cy="337.84" r="3.1"/><circle cx="1011.69" cy="338.92" r="3.1"/><circle cx="1018.15" cy="337.41" r="3.1"/><circle cx="1031.07" cy="337.84" r="3.1"/><circle cx="1050.46" cy="339.35" r="3.1"/><circle cx="1056.92" cy="338.49" r="3.1"/><circle cx="1063.38" cy="338.06" r="3.1"/><circle cx="1005.23" cy="342.8" r="3.1"/><circle cx="1024.61" cy="341.07" r="3.1"/><circle cx="1037.54" cy="341.51" r="3.1"/><circle cx="1044" cy="343.66" r="3.1"/><circle cx="1069.84" cy="341.51" r="3.1"/><circle cx="1076.3" cy="341.51" r="3.1"/><circle cx="1037.54" cy="350.77" r="3.1"/><circle cx="1044" cy="350.77" r="3.1"/><circle cx="1050.46" cy="350.12" r="3.1"/><circle cx="1031.07" cy="353.57" r="3.1"/><circle cx="1024.61" cy="362.18" r="3.1"/><circle cx="1037.54" cy="360.89" r="3.1"/><circle cx="1044" cy="358.74" r="3.1"/><circle cx="1050.46" cy="365.84" r="3.1"/></g>
<line x1="1110.8" y1="337.8" x2="1207.7" y2="337.8" stroke="#3a9090" stroke-width="1.1"/>
<g fill="none" stroke="#3a9090" stroke-width="1.05"><circle cx="1159.22" cy="305.11" r="3.1"/><circle cx="1149.53" cy="313.72" r="3.1"/><circle cx="1144.15" cy="316.31" r="3.1"/><circle cx="1162.02" cy="315.23" r="3.1"/><circle cx="1132.3" cy="323.41" r="3.1"/><circle cx="1149.53" cy="321.69" r="3.1"/><circle cx="1167.84" cy="321.04" r="3.1"/><circle cx="1179.69" cy="321.69" r="3.1"/><circle cx="1144.15" cy="324.49" r="3.1"/><circle cx="1186.15" cy="326.43" r="3.1"/><circle cx="1192.18" cy="325.57" r="3.1"/><circle cx="1138.33" cy="328.15" r="3.1"/><circle cx="1162.02" cy="327.08" r="3.1"/><circle cx="1174.3" cy="328.15" r="3.1"/><circle cx="1149.53" cy="330.95" r="3.1"/><circle cx="1179.69" cy="332.46" r="3.1"/><circle cx="1197.99" cy="332.03" r="3.1"/><circle cx="1132.3" cy="334.18" r="3.1"/><circle cx="1144.15" cy="334.18" r="3.1"/><circle cx="1162.02" cy="334.61" r="3.1"/><circle cx="1192.18" cy="333.97" r="3.1"/><circle cx="1204.02" cy="335.69" r="3.1"/><circle cx="1114" cy="337.84" r="3.1"/><circle cx="1125.84" cy="337.84" r="3.1"/><circle cx="1138.33" cy="338.49" r="3.1"/><circle cx="1155.99" cy="339.35" r="3.1"/><circle cx="1167.84" cy="338.49" r="3.1"/><circle cx="1186.15" cy="338.49" r="3.1"/><circle cx="1197.99" cy="339.35" r="3.1"/><circle cx="1120.46" cy="341.07" r="3.1"/><circle cx="1132.3" cy="342.15" r="3.1"/><circle cx="1144.15" cy="341.51" r="3.1"/><circle cx="1149.53" cy="341.07" r="3.1"/><circle cx="1174.3" cy="341.51" r="3.1"/><circle cx="1179.69" cy="341.07" r="3.1"/><circle cx="1192.18" cy="341.51" r="3.1"/><circle cx="1114" cy="345.81" r="3.1"/><circle cx="1125.84" cy="345.38" r="3.1"/><circle cx="1138.33" cy="345.81" r="3.1"/><circle cx="1162.02" cy="344.31" r="3.1"/><circle cx="1155.99" cy="347.97" r="3.1"/><circle cx="1167.84" cy="347.11" r="3.1"/><circle cx="1186.15" cy="345.81" r="3.1"/><circle cx="1204.02" cy="344.31" r="3.1"/><circle cx="1149.53" cy="355.07" r="3.1"/><circle cx="1162.02" cy="354.64" r="3.1"/></g>
<text x="67.1" y="526.7" font-size="18.9" font-weight="bold" fill="#effff8" textLength="41.3" lengthAdjust="spacingAndGlyphs" stroke="#effff8" stroke-width="0.33">TASR</text>
<text x="67.1" y="549.3" font-size="18.9" font-weight="bold" fill="#effff8" textLength="64" lengthAdjust="spacingAndGlyphs" stroke="#effff8" stroke-width="0.35">provides</text>
<text x="67.1" y="571.9" font-size="18.9" font-weight="bold" fill="#effff8" textLength="77.3" lengthAdjust="spacingAndGlyphs" stroke="#effff8" stroke-width="0.31">protection</text>
<text x="67.1" y="594.4" font-size="18.9" font-weight="bold" fill="#effff8" textLength="61.3" lengthAdjust="spacingAndGlyphs" stroke="#effff8" stroke-width="0.34">from NK</text>
<text x="67.1" y="616.9" font-size="18.9" font-weight="bold" fill="#effff8" textLength="92.6" lengthAdjust="spacingAndGlyphs" stroke="#effff8" stroke-width="0.3">cells in vitro</text>
<text x="204.4" y="508.6" font-size="14.9" font-weight="bold" fill="#111" textLength="32.6" lengthAdjust="spacingAndGlyphs" stroke="#111" stroke-width="0.26">TASR</text>
<text x="214.1" y="526.4" font-size="14.9" font-weight="bold" fill="#111" textLength="11" lengthAdjust="spacingAndGlyphs" stroke="#111" stroke-width="0.39">KI</text>
<text x="207" y="550.5" font-size="14.9" font-weight="bold" fill="#111" textLength="26.7" lengthAdjust="spacingAndGlyphs" stroke="#111" stroke-width="0.23">B2M</text>
<text x="211.2" y="568.1" font-size="14.9" font-weight="bold" fill="#111" textLength="16.2" lengthAdjust="spacingAndGlyphs" stroke="#111" stroke-width="0.41">KO</text>
<line x1="295" y1="516.3" x2="304" y2="521.3" stroke="#0a0a0a" stroke-width="3.1"/>
<line x1="294" y1="540" x2="303" y2="538.6" stroke="#0a0a0a" stroke-width="3.1"/>
<circle cx="327.4" cy="532.6" r="25.4" fill="#6a84d5" stroke="#06060f" stroke-width="2.1"/>
<circle cx="330.2" cy="536.2" r="17.9" fill="#96a9e6"/>
<text x="329.6" y="530.5" font-size="12.4" text-anchor="middle" fill="#141c3c" textLength="6" lengthAdjust="spacingAndGlyphs" stroke="#141c3c" stroke-width="0.3">T</text>
<text x="320.2" y="547" font-size="12.4" fill="#141c3c" textLength="20.1" lengthAdjust="spacingAndGlyphs" stroke="#141c3c" stroke-width="0.3">Cell</text>
<rect x="-9.3" y="-6" width="18.6" height="12" rx="2.4" transform="translate(287.1 510.2) rotate(29.4)" fill="#ee1c6d" stroke="#0c0c0c" stroke-width="1.7"/>
<rect x="-9.3" y="-6" width="18.6" height="12" rx="2.4" transform="translate(279.2 522.9) rotate(29.4)" fill="#ee1c6d" stroke="#0c0c0c" stroke-width="1.7"/>
<polygon points="265.47,542.05 279.47,537.89 282.43,540.95 292.6,533.95 296.11,544.45 286.26,547.74 283.52,549.7 281.66,559.99 271.49,562.18 269.63,554.08 265.47,551.89 266.78,547.3" fill="#1f74ba" stroke="#0b1f38" stroke-width="0.9" stroke-linejoin="round"/>
<polygon points="282.43,540.95 292.6,533.95 296.11,544.45 286.26,547.74" fill="#2a86cc" stroke="#0b1f38" stroke-width="0.9" stroke-linejoin="round"/>
<polygon points="266.78,547.3 273.68,548.17 272.04,554.63 265.47,551.89" fill="#0f3f77" stroke="#0b1f38" stroke-width="0.9" stroke-linejoin="round"/>
<path d="M279.47 537.89L283.52 549.7L269.63 554.08" fill="none" stroke="#0b1f38" stroke-width="0.8"/>
<ellipse cx="290.8" cy="554.3" rx="7.3" ry="4.4" transform="rotate(-8 290.8 554.3)" fill="#e23a33" stroke="#3a0d0d" stroke-width="1"/>
<circle cx="269" cy="553.8" r="1.3" fill="#f3d54a"/>
<path d="M262.7 543.1L303.2 557.4M292.3 532.7L270.9 568.9" stroke="#0a0a0a" stroke-width="2.7" fill="none"/>
<circle cx="403.8" cy="534.2" r="25.7" fill="#ee8636" stroke="#160a04" stroke-width="2.1"/>
<circle cx="406.8" cy="537.8" r="17.8" fill="#f5ae7b"/>
<text x="399.4" y="543.4" font-size="12.4" fill="#3a1e10" textLength="15" lengthAdjust="spacingAndGlyphs" stroke="#3a1e10" stroke-width="0.5">NK</text>
<text x="279.7" y="607.2" font-size="15.5" fill="#222" textLength="57.5" lengthAdjust="spacingAndGlyphs" stroke="#222" stroke-width="0.17">Target (T)</text>
<text x="370.4" y="607.2" font-size="15.5" fill="#222" textLength="67.1" lengthAdjust="spacingAndGlyphs" stroke="#222" stroke-width="0.16">Effector (E)</text>
<path d="M448 491C452.5 491.5 453.8 494 453.8 499V556C453.8 562 456 565.5 461 566.2C456 567 453.8 570.5 453.8 576V633C453.8 638 452.5 640.6 448 641.2" fill="none" stroke="#222" stroke-width="1.1"/>
<path d="M460 566.2H491M485.8 561.4L491.3 566.2L485.8 571" fill="none" stroke="#222" stroke-width="1.1"/>
<text x="474" y="528" font-size="13.2" text-anchor="middle" fill="#222" textLength="12" lengthAdjust="spacingAndGlyphs" stroke="#222" stroke-width="0.18">20</text>
<text x="459.6" y="544.2" font-size="13.2" fill="#222" textLength="29" lengthAdjust="spacingAndGlyphs" stroke="#222" stroke-width="0.12">hours</text>
<line x1="535" y1="471" x2="535" y2="661" stroke="#a6a6a6" stroke-width="1" stroke-dasharray="4 3"/>
<text transform="translate(520.6 565.4) rotate(-90)" text-anchor="middle" font-size="12" fill="#222" textLength="94.8" lengthAdjust="spacingAndGlyphs">T Cell Survival (%)</text>
<text x="574.8" y="490.2" font-size="16.1" font-weight="bold" fill="#1d8fd1" textLength="99.13" lengthAdjust="spacingAndGlyphs" stroke="#1d8fd1" stroke-width="0.27">NK Donor 1 (2A</text>
<text x="675.54" y="484.6" font-size="9" font-weight="bold" fill="#1d8fd1" textLength="17.26" lengthAdjust="spacingAndGlyphs" stroke="#1d8fd1" stroke-width="0.3">dom</text>
<text x="693.54" y="490.2" font-size="16.1" font-weight="bold" fill="#1d8fd1" textLength="4.56" lengthAdjust="spacingAndGlyphs">)</text>
<text x="762.4" y="490.2" font-size="16.1" font-weight="bold" fill="#1d8fd1" textLength="98.57" lengthAdjust="spacingAndGlyphs" stroke="#1d8fd1" stroke-width="0.28">NK Donor 2 (2C</text>
<text x="862.56" y="484.6" font-size="9" font-weight="bold" fill="#1d8fd1" textLength="17.16" lengthAdjust="spacingAndGlyphs" stroke="#1d8fd1" stroke-width="0.3">dom</text>
<text x="880.46" y="490.2" font-size="16.1" font-weight="bold" fill="#1d8fd1" textLength="4.54" lengthAdjust="spacingAndGlyphs">)</text>
<text x="950" y="490.2" font-size="16.1" font-weight="bold" fill="#1d8fd1" textLength="99.05" lengthAdjust="spacingAndGlyphs" stroke="#1d8fd1" stroke-width="0.27">NK Donor 3 (2A</text>
<text x="1050.65" y="484.6" font-size="9" font-weight="bold" fill="#1d8fd1" textLength="17.25" lengthAdjust="spacingAndGlyphs" stroke="#1d8fd1" stroke-width="0.3">dom</text>
<text x="1068.64" y="490.2" font-size="16.1" font-weight="bold" fill="#1d8fd1" textLength="4.56" lengthAdjust="spacingAndGlyphs">)</text>
<path d="M571 511.81L585.04 511.81L589.16 511.81L593.29 511.81L597.41 511.81L601.54 511.81L605.66 511.81L609.79 511.81L613.91 511.81L618.04 511.83L622.16 511.89L626.28 512.11L630.41 512.86L634.53 514.53L638.66 516.37L642.78 517.32L646.91 517.62L651.03 517.7L655.16 517.72L659.28 517.73L663.4 517.73L667.53 517.73L671.65 517.73L675.78 517.73L679.9 517.73L684.03 517.73L688.15 517.73L692.28 517.73L696.4 517.73" fill="none" stroke="#9b9b9b" stroke-width="1.05" stroke-linejoin="round"/>
<path d="M571 512.3L585.04 516.72L589.16 517.06L593.29 517.42L597.41 517.81L601.54 518.21L605.66 518.64L609.79 519.09L613.91 519.56L618.04 520.05L622.16 520.56L626.28 521.09L630.41 521.63L634.53 522.2L638.66 522.78L642.78 523.37L646.91 523.98L651.03 524.59L655.16 525.21L659.28 525.84L663.4 526.47L667.53 527.09L671.65 527.72L675.78 528.34L679.9 528.95L684.03 529.55L688.15 530.15L692.28 530.72L696.4 531.29" fill="none" stroke="#dc3d7a" stroke-width="1.05" stroke-linejoin="round"/>
<path d="M571 511.81L585.04 517.07L589.16 517.81L593.29 518.64L597.41 519.58L601.54 520.64L605.66 521.82L609.79 523.14L613.91 524.61L618.04 526.24L622.16 528.03L626.28 529.99L630.41 532.14L634.53 534.46L638.66 536.95L642.78 539.62L646.91 542.44L651.03 545.41L655.16 548.51L659.28 551.7L663.4 554.97L667.53 558.29L671.65 561.61L675.78 564.92L679.9 568.17L684.03 571.34L688.15 574.4L692.28 577.34L696.4 580.12" fill="none" stroke="#6a4bb0" stroke-width="1.05" stroke-linejoin="round"/>
<path d="M571 511.81L585.04 512.94L589.16 513.25L593.29 513.64L597.41 514.14L601.54 514.77L605.66 515.55L609.79 516.54L613.91 517.76L618.04 519.26L622.16 521.11L626.28 523.34L630.41 526L634.53 529.12L638.66 532.72L642.78 536.78L646.91 541.26L651.03 546.06L655.16 551.07L659.28 556.14L663.4 561.12L667.53 565.86L671.65 570.26L675.78 574.24L679.9 577.75L684.03 580.78L688.15 583.35L692.28 585.5L696.4 587.28" fill="none" stroke="#1c1c1c" stroke-width="1.05" stroke-linejoin="round"/>
<path d="M571 506.23L576.58 511.81L571 517.39L565.42 511.81Z" fill="none" stroke="#9b9b9b" stroke-width="1.4"/>
<path d="M602.2 504.5L607.78 510.08L602.2 515.66L596.62 510.08Z" fill="none" stroke="#9b9b9b" stroke-width="1.4"/>
<path d="M620.7 505.74L626.28 511.32L620.7 516.9L615.12 511.32Z" fill="none" stroke="#9b9b9b" stroke-width="1.4"/>
<path d="M639.7 511.16L645.28 516.74L639.7 522.32L634.12 516.74Z" fill="none" stroke="#9b9b9b" stroke-width="1.4"/>
<path d="M658.4 511.16L663.98 516.74L658.4 522.32L652.82 516.74Z" fill="none" stroke="#9b9b9b" stroke-width="1.4"/>
<path d="M658.4 512.66L663.98 518.24L658.4 523.82L652.82 518.24Z" fill="none" stroke="#9b9b9b" stroke-width="1.4"/>
<path d="M677.4 512.88L682.98 518.46L677.4 524.04L671.82 518.46Z" fill="none" stroke="#9b9b9b" stroke-width="1.4"/>
<path d="M677.4 514.88L682.98 520.46L677.4 526.04L671.82 520.46Z" fill="none" stroke="#9b9b9b" stroke-width="1.4"/>
<path d="M696.4 512.39L701.98 517.97L696.4 523.55L690.82 517.97Z" fill="none" stroke="#9b9b9b" stroke-width="1.4"/>
<path d="M696.4 513.89L701.98 519.47L696.4 525.05L690.82 519.47Z" fill="none" stroke="#9b9b9b" stroke-width="1.4"/>
<path d="M571 506.35L576.43 516.18L565.57 516.18Z" fill="none" stroke="#dc3d7a" stroke-width="1.4" stroke-linejoin="miter"/>
<path d="M602.2 513.74L607.63 523.57L596.77 523.57Z" fill="none" stroke="#dc3d7a" stroke-width="1.4" stroke-linejoin="miter"/>
<path d="M620.7 512.02L626.13 521.85L615.27 521.85Z" fill="none" stroke="#dc3d7a" stroke-width="1.4" stroke-linejoin="miter"/>
<path d="M639.7 518.18L645.13 528.01L634.27 528.01Z" fill="none" stroke="#dc3d7a" stroke-width="1.4" stroke-linejoin="miter"/>
<path d="M658.4 519.41L663.83 529.24L652.97 529.24Z" fill="none" stroke="#dc3d7a" stroke-width="1.4" stroke-linejoin="miter"/>
<path d="M658.4 520.61L663.83 530.44L652.97 530.44Z" fill="none" stroke="#dc3d7a" stroke-width="1.4" stroke-linejoin="miter"/>
<path d="M677.4 523.1L682.83 532.94L671.97 532.94Z" fill="none" stroke="#dc3d7a" stroke-width="1.4" stroke-linejoin="miter"/>
<path d="M696.4 525.07L701.83 534.91L690.97 534.91Z" fill="none" stroke="#dc3d7a" stroke-width="1.4" stroke-linejoin="miter"/>
<path d="M696.4 526.57L701.83 536.41L690.97 536.41Z" fill="none" stroke="#dc3d7a" stroke-width="1.4" stroke-linejoin="miter"/>
<path d="M571 506.23L576.58 511.81L571 517.39L565.42 511.81Z" fill="none" stroke="#6a4bb0" stroke-width="1.4"/>
<path d="M602.2 518.55L607.78 524.13L602.2 529.71L596.62 524.13Z" fill="none" stroke="#6a4bb0" stroke-width="1.4"/>
<path d="M620.7 519.29L626.28 524.87L620.7 530.45L615.12 524.87Z" fill="none" stroke="#6a4bb0" stroke-width="1.4"/>
<path d="M620.7 520.79L626.28 526.37L620.7 531.95L615.12 526.37Z" fill="none" stroke="#6a4bb0" stroke-width="1.4"/>
<path d="M639.7 531.36L645.28 536.94L639.7 542.52L634.12 536.94Z" fill="none" stroke="#6a4bb0" stroke-width="1.4"/>
<path d="M658.4 545.65L663.98 551.23L658.4 556.81L652.82 551.23Z" fill="none" stroke="#6a4bb0" stroke-width="1.4"/>
<path d="M658.4 544.45L663.98 550.03L658.4 555.61L652.82 550.03Z" fill="none" stroke="#6a4bb0" stroke-width="1.4"/>
<path d="M677.4 561.66L682.98 567.24L677.4 572.82L671.82 567.24Z" fill="none" stroke="#6a4bb0" stroke-width="1.4"/>
<path d="M696.4 573.98L701.98 579.56L696.4 585.14L690.82 579.56Z" fill="none" stroke="#6a4bb0" stroke-width="1.4"/>
<circle cx="571" cy="511.81" r="4.5" fill="none" stroke="#1c1c1c" stroke-width="1.4"/>
<circle cx="602.2" cy="517.48" r="4.5" fill="none" stroke="#1c1c1c" stroke-width="1.4"/>
<circle cx="602.2" cy="518.68" r="4.5" fill="none" stroke="#1c1c1c" stroke-width="1.4"/>
<circle cx="620.7" cy="517.97" r="4.5" fill="none" stroke="#1c1c1c" stroke-width="1.4"/>
<circle cx="639.7" cy="535.71" r="4.5" fill="none" stroke="#1c1c1c" stroke-width="1.4"/>
<circle cx="639.7" cy="536.71" r="4.5" fill="none" stroke="#1c1c1c" stroke-width="1.4"/>
<circle cx="658.4" cy="552.95" r="4.5" fill="none" stroke="#1c1c1c" stroke-width="1.4"/>
<circle cx="677.4" cy="577.59" r="4.5" fill="none" stroke="#1c1c1c" stroke-width="1.4"/>
<circle cx="696.4" cy="586.46" r="4.5" fill="none" stroke="#1c1c1c" stroke-width="1.4"/>
<circle cx="696.4" cy="584.96" r="4.5" fill="none" stroke="#1c1c1c" stroke-width="1.4"/>
<path d="M571 511.1V607.4H701.5" fill="none" stroke="#000" stroke-width="1.8"/>
<path d="M567 607.4H571M567 583.5H571M567 559.6H571M567 535.7H571M567 511.8H571M598.5 607.4V615M637.7 607.4V615M676.9 607.4V615M701.5 606.5V612.2" fill="none" stroke="#000" stroke-width="1.6"/>
<path d="M578 607.4V612.6M582.9 607.4V612.6M586.7 607.4V612.6M589.8 607.4V612.6M592.43 607.4V612.6M594.7 607.4V612.6M596.71 607.4V612.6M610.3 607.4V612.6M617.2 607.4V612.6M622.1 607.4V612.6M625.9 607.4V612.6M629 607.4V612.6M631.63 607.4V612.6M633.9 607.4V612.6M635.91 607.4V612.6M649.5 607.4V612.6M656.4 607.4V612.6M661.3 607.4V612.6M665.1 607.4V612.6M668.2 607.4V612.6M670.83 607.4V612.6M673.1 607.4V612.6M675.11 607.4V612.6M688.7 607.4V612.6M695.6 607.4V612.6" fill="none" stroke="#000" stroke-width="1.55"/>
<text x="565.6" y="610.5" font-size="8.5" text-anchor="end" fill="#1a1a1a" style="font-family:'DejaVu Sans',sans-serif" stroke="#1a1a1a" stroke-width="0.2">0</text>
<text x="565.6" y="586.6" font-size="8.5" text-anchor="end" fill="#1a1a1a" style="font-family:'DejaVu Sans',sans-serif" stroke="#1a1a1a" stroke-width="0.2">25</text>
<text x="565.6" y="562.7" font-size="8.5" text-anchor="end" fill="#1a1a1a" style="font-family:'DejaVu Sans',sans-serif" stroke="#1a1a1a" stroke-width="0.2">50</text>
<text x="565.6" y="538.8" font-size="8.5" text-anchor="end" fill="#1a1a1a" style="font-family:'DejaVu Sans',sans-serif" stroke="#1a1a1a" stroke-width="0.2">75</text>
<text x="565.6" y="514.9" font-size="8.5" text-anchor="end" fill="#1a1a1a" style="font-family:'DejaVu Sans',sans-serif" stroke="#1a1a1a" stroke-width="0.2">100</text>
<text x="571" y="626.4" font-size="8.4" text-anchor="middle" fill="#1a1a1a" style="font-family:'DejaVu Sans',sans-serif" stroke="#1a1a1a" stroke-width="0.2">0</text>
<text x="598.5" y="626.4" font-size="8.4" text-anchor="middle" fill="#1a1a1a" style="font-family:'DejaVu Sans',sans-serif" stroke="#1a1a1a" stroke-width="0.2">0.01</text>
<text x="637.7" y="626.4" font-size="8.4" text-anchor="middle" fill="#1a1a1a" style="font-family:'DejaVu Sans',sans-serif" stroke="#1a1a1a" stroke-width="0.2">0.1</text>
<text x="676.9" y="626.4" font-size="8.4" text-anchor="middle" fill="#1a1a1a" style="font-family:'DejaVu Sans',sans-serif" stroke="#1a1a1a" stroke-width="0.2">1</text>
<path d="M758.2 515.51L772.38 517.16L776.52 517.33L780.67 517.52L784.81 517.73L788.96 517.97L793.1 518.22L797.25 518.51L801.39 518.82L805.54 519.17L809.68 519.55L813.83 519.98L817.97 520.44L822.12 520.96L826.26 521.52L830.41 522.15L834.56 522.84L838.7 523.59L842.85 524.43L846.99 525.35L851.14 526.36L855.28 527.47L859.43 528.69L863.57 530.03L867.72 531.5L871.86 533.11L876.01 534.88L880.15 536.82L884.3 538.93" fill="none" stroke="#9b9b9b" stroke-width="1.05" stroke-linejoin="round"/>
<path d="M758.2 516.24L772.38 524.67L776.52 525.14L780.67 525.64L784.81 526.16L788.96 526.71L793.1 527.29L797.25 527.9L801.39 528.55L805.54 529.22L809.68 529.94L813.83 530.69L817.97 531.48L822.12 532.31L826.26 533.19L830.41 534.11L834.56 535.08L838.7 536.1L842.85 537.18L846.99 538.3L851.14 539.49L855.28 540.73L859.43 542.04L863.57 543.41L867.72 544.84L871.86 546.35L876.01 547.93L880.15 549.58L884.3 551.32" fill="none" stroke="#dc3d7a" stroke-width="1.05" stroke-linejoin="round"/>
<path d="M758.2 515.51L772.38 516.47L776.52 516.78L780.67 517.2L784.81 517.74L788.96 518.47L793.1 519.41L797.25 520.64L801.39 522.23L805.54 524.26L809.68 526.83L813.83 530.03L817.97 533.95L822.12 538.62L826.26 544.05L830.41 550.17L834.56 556.81L838.7 563.75L842.85 570.71L846.99 577.41L851.14 583.62L855.28 589.17L859.43 593.96L863.57 597.99L867.72 601.3L871.86 603.97L876.01 606.08L880.15 607.73L884.3 609.01" fill="none" stroke="#6a4bb0" stroke-width="1.05" stroke-linejoin="round"/>
<path d="M758.2 515.51L772.38 516.35L776.52 516.63L780.67 517.01L784.81 517.52L788.96 518.19L793.1 519.07L797.25 520.23L801.39 521.74L805.54 523.69L809.68 526.18L813.83 529.31L817.97 533.16L822.12 537.81L826.26 543.24L830.41 549.4L834.56 556.11L838.7 563.14L842.85 570.2L846.99 577L851.14 583.27L855.28 588.84L859.43 593.63L863.57 597.62L867.72 600.88L871.86 603.48L876.01 605.52L880.15 607.1L884.3 608.32" fill="none" stroke="#1c1c1c" stroke-width="1.05" stroke-linejoin="round"/>
<path d="M758.2 509.93L763.78 515.51L758.2 521.09L752.62 515.51Z" fill="none" stroke="#9b9b9b" stroke-width="1.4"/>
<path d="M789.7 517.32L795.28 522.9L789.7 528.48L784.12 522.9Z" fill="none" stroke="#9b9b9b" stroke-width="1.4"/>
<path d="M808.7 507.46L814.28 513.04L808.7 518.62L803.12 513.04Z" fill="none" stroke="#9b9b9b" stroke-width="1.4"/>
<path d="M827.7 518.55L833.28 524.13L827.7 529.71L822.12 524.13Z" fill="none" stroke="#9b9b9b" stroke-width="1.4"/>
<path d="M846.4 521.01L851.98 526.59L846.4 532.17L840.82 526.59Z" fill="none" stroke="#9b9b9b" stroke-width="1.4"/>
<path d="M846.4 522.51L851.98 528.09L846.4 533.67L840.82 528.09Z" fill="none" stroke="#9b9b9b" stroke-width="1.4"/>
<path d="M865.4 522.98L870.98 528.56L865.4 534.14L859.82 528.56Z" fill="none" stroke="#9b9b9b" stroke-width="1.4"/>
<path d="M884.3 534.07L889.88 539.65L884.3 545.23L878.72 539.65Z" fill="none" stroke="#9b9b9b" stroke-width="1.4"/>
<path d="M758.2 510.29L763.63 520.13L752.77 520.13Z" fill="none" stroke="#dc3d7a" stroke-width="1.4" stroke-linejoin="miter"/>
<path d="M789.7 522.61L795.13 532.44L784.27 532.44Z" fill="none" stroke="#dc3d7a" stroke-width="1.4" stroke-linejoin="miter"/>
<path d="M789.7 524.11L795.13 533.94L784.27 533.94Z" fill="none" stroke="#dc3d7a" stroke-width="1.4" stroke-linejoin="miter"/>
<path d="M808.7 520.64L814.13 530.47L803.27 530.47Z" fill="none" stroke="#dc3d7a" stroke-width="1.4" stroke-linejoin="miter"/>
<path d="M827.7 530.49L833.13 540.33L822.27 540.33Z" fill="none" stroke="#dc3d7a" stroke-width="1.4" stroke-linejoin="miter"/>
<path d="M846.4 533.7L851.83 543.53L840.97 543.53Z" fill="none" stroke="#dc3d7a" stroke-width="1.4" stroke-linejoin="miter"/>
<path d="M846.4 534.9L851.83 544.73L840.97 544.73Z" fill="none" stroke="#dc3d7a" stroke-width="1.4" stroke-linejoin="miter"/>
<path d="M865.4 532.96L870.83 542.79L859.97 542.79Z" fill="none" stroke="#dc3d7a" stroke-width="1.4" stroke-linejoin="miter"/>
<path d="M884.3 547.74L889.73 557.57L878.87 557.57Z" fill="none" stroke="#dc3d7a" stroke-width="1.4" stroke-linejoin="miter"/>
<path d="M884.3 549.94L889.73 559.77L878.87 559.77Z" fill="none" stroke="#dc3d7a" stroke-width="1.4" stroke-linejoin="miter"/>
<path d="M758.2 509.93L763.78 515.51L758.2 521.09L752.62 515.51Z" fill="none" stroke="#6a4bb0" stroke-width="1.4"/>
<path d="M789.7 519.29L795.28 524.87L789.7 530.45L784.12 524.87Z" fill="none" stroke="#6a4bb0" stroke-width="1.4"/>
<path d="M808.7 516.58L814.28 522.16L808.7 527.74L803.12 522.16Z" fill="none" stroke="#6a4bb0" stroke-width="1.4"/>
<path d="M808.7 518.08L814.28 523.66L808.7 529.24L803.12 523.66Z" fill="none" stroke="#6a4bb0" stroke-width="1.4"/>
<path d="M827.7 542.69L833.28 548.27L827.7 553.85L822.12 548.27Z" fill="none" stroke="#6a4bb0" stroke-width="1.4"/>
<path d="M846.4 568.31L851.98 573.89L846.4 579.47L840.82 573.89Z" fill="none" stroke="#6a4bb0" stroke-width="1.4"/>
<path d="M865.4 597.39L870.98 602.97L865.4 608.55L859.82 602.97Z" fill="none" stroke="#6a4bb0" stroke-width="1.4"/>
<path d="M884.3 601.57L889.88 607.15L884.3 612.73L878.72 607.15Z" fill="none" stroke="#6a4bb0" stroke-width="1.4"/>
<circle cx="758.2" cy="515.51" r="4.5" fill="none" stroke="#1c1c1c" stroke-width="1.4"/>
<circle cx="789.7" cy="524.87" r="4.5" fill="none" stroke="#1c1c1c" stroke-width="1.4"/>
<circle cx="789.7" cy="526.07" r="4.5" fill="none" stroke="#1c1c1c" stroke-width="1.4"/>
<circle cx="808.7" cy="522.16" r="4.5" fill="none" stroke="#1c1c1c" stroke-width="1.4"/>
<circle cx="808.7" cy="520.96" r="4.5" fill="none" stroke="#1c1c1c" stroke-width="1.4"/>
<circle cx="827.7" cy="546.79" r="4.5" fill="none" stroke="#1c1c1c" stroke-width="1.4"/>
<circle cx="827.7" cy="548.79" r="4.5" fill="none" stroke="#1c1c1c" stroke-width="1.4"/>
<circle cx="846.4" cy="573.89" r="4.5" fill="none" stroke="#1c1c1c" stroke-width="1.4"/>
<circle cx="865.4" cy="602.47" r="4.5" fill="none" stroke="#1c1c1c" stroke-width="1.4"/>
<circle cx="865.4" cy="603.97" r="4.5" fill="none" stroke="#1c1c1c" stroke-width="1.4"/>
<circle cx="884.3" cy="606.41" r="4.5" fill="none" stroke="#1c1c1c" stroke-width="1.4"/>
<path d="M758.2 513.9V607.9H889.5" fill="none" stroke="#000" stroke-width="1.8"/>
<path d="M754.2 607.9H758.2M754.2 584.57H758.2M754.2 561.25H758.2M754.2 537.92H758.2M754.2 514.6H758.2M786 607.9V615.5M825.7 607.9V615.5M865.4 607.9V615.5M889.5 607V612.7" fill="none" stroke="#000" stroke-width="1.6"/>
<path d="M765.24 607.9V613.1M770.2 607.9V613.1M774.05 607.9V613.1M777.19 607.9V613.1M779.85 607.9V613.1M782.15 607.9V613.1M784.18 607.9V613.1M797.95 607.9V613.1M804.94 607.9V613.1M809.9 607.9V613.1M813.75 607.9V613.1M816.89 607.9V613.1M819.55 607.9V613.1M821.85 607.9V613.1M823.88 607.9V613.1M837.65 607.9V613.1M844.64 607.9V613.1M849.6 607.9V613.1M853.45 607.9V613.1M856.59 607.9V613.1M859.25 607.9V613.1M861.55 607.9V613.1M863.58 607.9V613.1M877.35 607.9V613.1M884.34 607.9V613.1" fill="none" stroke="#000" stroke-width="1.55"/>
<text x="758.2" y="626.9" font-size="8.4" text-anchor="middle" fill="#1a1a1a" style="font-family:'DejaVu Sans',sans-serif" stroke="#1a1a1a" stroke-width="0.2">0</text>
<text x="786" y="626.9" font-size="8.4" text-anchor="middle" fill="#1a1a1a" style="font-family:'DejaVu Sans',sans-serif" stroke="#1a1a1a" stroke-width="0.2">0.01</text>
<text x="825.7" y="626.9" font-size="8.4" text-anchor="middle" fill="#1a1a1a" style="font-family:'DejaVu Sans',sans-serif" stroke="#1a1a1a" stroke-width="0.2">0.1</text>
<text x="865.4" y="626.9" font-size="8.4" text-anchor="middle" fill="#1a1a1a" style="font-family:'DejaVu Sans',sans-serif" stroke="#1a1a1a" stroke-width="0.2">1</text>
<path d="M946.4 515.01L960.26 517.69L964.36 518.14L968.46 518.66L972.56 519.24L976.67 519.91L980.77 520.66L984.87 521.51L988.97 522.44L993.07 523.47L997.17 524.58L1001.27 525.79L1005.38 527.06L1009.48 528.41L1013.58 529.79L1017.68 531.21L1021.78 532.64L1025.88 534.06L1029.99 535.45L1034.09 536.79L1038.19 538.06L1042.29 539.26L1046.39 540.37L1050.49 541.4L1054.59 542.33L1058.7 543.17L1062.8 543.92L1066.9 544.58L1071 545.16" fill="none" stroke="#9b9b9b" stroke-width="1.05" stroke-linejoin="round"/>
<path d="M946.4 515.51L960.26 522.05L964.36 522.8L968.46 523.62L972.56 524.51L976.67 525.49L980.77 526.56L984.87 527.71L988.97 528.94L993.07 530.27L997.17 531.69L1001.27 533.19L1005.38 534.77L1009.48 536.42L1013.58 538.15L1017.68 539.93L1021.78 541.76L1025.88 543.63L1029.99 545.51L1034.09 547.41L1038.19 549.3L1042.29 551.18L1046.39 553.02L1050.49 554.81L1054.59 556.55L1058.7 558.23L1062.8 559.83L1066.9 561.35L1071 562.79" fill="none" stroke="#dc3d7a" stroke-width="1.05" stroke-linejoin="round"/>
<path d="M946.4 515.01L960.26 518.57L964.36 519.39L968.46 520.37L972.56 521.56L976.67 523L980.77 524.72L984.87 526.76L988.97 529.16L993.07 531.96L997.17 535.19L1001.27 538.85L1005.38 542.95L1009.48 547.45L1013.58 552.3L1017.68 557.43L1021.78 562.73L1025.88 568.09L1029.99 573.38L1034.09 578.49L1038.19 583.32L1042.29 587.79L1046.39 591.86L1050.49 595.49L1054.59 598.68L1058.7 601.45L1062.8 603.83L1066.9 605.84L1071 607.54" fill="none" stroke="#6a4bb0" stroke-width="1.05" stroke-linejoin="round"/>
<path d="M946.4 515.01L960.26 518.23L964.36 518.97L968.46 519.87L972.56 520.95L976.67 522.26L980.77 523.84L984.87 525.71L988.97 527.93L993.07 530.53L997.17 533.55L1001.27 537L1005.38 540.89L1009.48 545.2L1013.58 549.9L1017.68 554.93L1021.78 560.17L1025.88 565.54L1029.99 570.91L1034.09 576.16L1038.19 581.18L1042.29 585.88L1046.39 590.19L1050.49 594.08L1054.59 597.53L1058.7 600.54L1062.8 603.14L1066.9 605.36L1071 607.23" fill="none" stroke="#1c1c1c" stroke-width="1.05" stroke-linejoin="round"/>
<path d="M946.4 509.43L951.98 515.01L946.4 520.59L940.82 515.01Z" fill="none" stroke="#9b9b9b" stroke-width="1.4"/>
<path d="M977.2 515.59L982.78 521.17L977.2 526.75L971.62 521.17Z" fill="none" stroke="#9b9b9b" stroke-width="1.4"/>
<path d="M996.4 514.85L1001.98 520.43L996.4 526.01L990.82 520.43Z" fill="none" stroke="#9b9b9b" stroke-width="1.4"/>
<path d="M1014.9 528.4L1020.48 533.98L1014.9 539.56L1009.32 533.98Z" fill="none" stroke="#9b9b9b" stroke-width="1.4"/>
<path d="M1033.3 531.36L1038.88 536.94L1033.3 542.52L1027.72 536.94Z" fill="none" stroke="#9b9b9b" stroke-width="1.4"/>
<path d="M1052.3 532.84L1057.88 538.42L1052.3 544L1046.72 538.42Z" fill="none" stroke="#9b9b9b" stroke-width="1.4"/>
<path d="M1071 541.46L1076.58 547.04L1071 552.62L1065.42 547.04Z" fill="none" stroke="#9b9b9b" stroke-width="1.4"/>
<path d="M946.4 509.55L951.83 519.39L940.97 519.39Z" fill="none" stroke="#dc3d7a" stroke-width="1.4" stroke-linejoin="miter"/>
<path d="M977.2 519.41L982.63 529.24L971.77 529.24Z" fill="none" stroke="#dc3d7a" stroke-width="1.4" stroke-linejoin="miter"/>
<path d="M996.4 522.61L1001.83 532.44L990.97 532.44Z" fill="none" stroke="#dc3d7a" stroke-width="1.4" stroke-linejoin="miter"/>
<path d="M1014.9 536.65L1020.33 546.49L1009.47 546.49Z" fill="none" stroke="#dc3d7a" stroke-width="1.4" stroke-linejoin="miter"/>
<path d="M1033.3 542.32L1038.73 552.15L1027.87 552.15Z" fill="none" stroke="#dc3d7a" stroke-width="1.4" stroke-linejoin="miter"/>
<path d="M1052.3 545.28L1057.73 555.11L1046.87 555.11Z" fill="none" stroke="#dc3d7a" stroke-width="1.4" stroke-linejoin="miter"/>
<path d="M1071 558.83L1076.43 568.66L1065.57 568.66Z" fill="none" stroke="#dc3d7a" stroke-width="1.4" stroke-linejoin="miter"/>
<path d="M946.4 509.43L951.98 515.01L946.4 520.59L940.82 515.01Z" fill="none" stroke="#6a4bb0" stroke-width="1.4"/>
<path d="M977.2 519.29L982.78 524.87L977.2 530.45L971.62 524.87Z" fill="none" stroke="#6a4bb0" stroke-width="1.4"/>
<path d="M996.4 526.43L1001.98 532.01L996.4 537.59L990.82 532.01Z" fill="none" stroke="#6a4bb0" stroke-width="1.4"/>
<path d="M1014.9 550.58L1020.48 556.16L1014.9 561.74L1009.32 556.16Z" fill="none" stroke="#6a4bb0" stroke-width="1.4"/>
<path d="M1033.3 570.28L1038.88 575.86L1033.3 581.44L1027.72 575.86Z" fill="none" stroke="#6a4bb0" stroke-width="1.4"/>
<path d="M1052.3 592.46L1057.88 598.04L1052.3 603.62L1046.72 598.04Z" fill="none" stroke="#6a4bb0" stroke-width="1.4"/>
<path d="M1071 601.57L1076.58 607.15L1071 612.73L1065.42 607.15Z" fill="none" stroke="#6a4bb0" stroke-width="1.4"/>
<circle cx="946.4" cy="515.01" r="4.5" fill="none" stroke="#1c1c1c" stroke-width="1.4"/>
<circle cx="977.2" cy="525.36" r="4.5" fill="none" stroke="#1c1c1c" stroke-width="1.4"/>
<circle cx="977.2" cy="526.56" r="4.5" fill="none" stroke="#1c1c1c" stroke-width="1.4"/>
<circle cx="996.4" cy="532.01" r="4.5" fill="none" stroke="#1c1c1c" stroke-width="1.4"/>
<circle cx="1014.9" cy="550.49" r="4.5" fill="none" stroke="#1c1c1c" stroke-width="1.4"/>
<circle cx="1014.9" cy="548.49" r="4.5" fill="none" stroke="#1c1c1c" stroke-width="1.4"/>
<circle cx="1033.3" cy="575.13" r="4.5" fill="none" stroke="#1c1c1c" stroke-width="1.4"/>
<circle cx="1052.3" cy="597.3" r="4.5" fill="none" stroke="#1c1c1c" stroke-width="1.4"/>
<circle cx="1071" cy="606.17" r="4.5" fill="none" stroke="#1c1c1c" stroke-width="1.4"/>
<path d="M946.4 513.9V607.9H1076.4" fill="none" stroke="#000" stroke-width="1.8"/>
<path d="M942.4 607.9H946.4M942.4 584.57H946.4M942.4 561.25H946.4M942.4 537.92H946.4M942.4 514.6H946.4M973.7 607.9V615.5M1012.8 607.9V615.5M1051.9 607.9V615.5M1076.4 607V612.7" fill="none" stroke="#000" stroke-width="1.6"/>
<path d="M953.26 607.9V613.1M958.14 607.9V613.1M961.93 607.9V613.1M965.03 607.9V613.1M967.64 607.9V613.1M969.91 607.9V613.1M971.91 607.9V613.1M985.47 607.9V613.1M992.36 607.9V613.1M997.24 607.9V613.1M1001.03 607.9V613.1M1004.13 607.9V613.1M1006.74 607.9V613.1M1009.01 607.9V613.1M1011.01 607.9V613.1M1024.57 607.9V613.1M1031.46 607.9V613.1M1036.34 607.9V613.1M1040.13 607.9V613.1M1043.23 607.9V613.1M1045.84 607.9V613.1M1048.11 607.9V613.1M1050.11 607.9V613.1M1063.67 607.9V613.1M1070.56 607.9V613.1" fill="none" stroke="#000" stroke-width="1.55"/>
<text x="946.4" y="626.9" font-size="8.4" text-anchor="middle" fill="#1a1a1a" style="font-family:'DejaVu Sans',sans-serif" stroke="#1a1a1a" stroke-width="0.2">0</text>
<text x="973.7" y="626.9" font-size="8.4" text-anchor="middle" fill="#1a1a1a" style="font-family:'DejaVu Sans',sans-serif" stroke="#1a1a1a" stroke-width="0.2">0.01</text>
<text x="1012.8" y="626.9" font-size="8.4" text-anchor="middle" fill="#1a1a1a" style="font-family:'DejaVu Sans',sans-serif" stroke="#1a1a1a" stroke-width="0.2">0.1</text>
<text x="1051.9" y="626.9" font-size="8.4" text-anchor="middle" fill="#1a1a1a" style="font-family:'DejaVu Sans',sans-serif" stroke="#1a1a1a" stroke-width="0.2">1</text>
<text x="796.1" y="656.8" font-size="16" font-weight="bold" fill="#111" textLength="57.7" lengthAdjust="spacingAndGlyphs" stroke="#111" stroke-width="0.29">E:T Ratio</text>
<circle cx="1121.4" cy="516.4" r="8.1" fill="none" stroke="#111" stroke-width="1.9"/>
<path d="M1121.6 542.6L1129.9 556.9H1113.3Z" fill="none" stroke="#d8286f" stroke-width="1.9"/>
<path d="M1121.7 572.1L1132.4 582.7L1121.7 593.3L1111 582.7Z" fill="none" stroke="#3a1787" stroke-width="1.9"/>
<path d="M1121.7 605L1132.4 615.6L1121.7 626.2L1111 615.6Z" fill="none" stroke="#8c8c8c" stroke-width="1.9"/>
<text x="1143.6" y="521.8" font-size="14.9" font-weight="bold" fill="#111" textLength="53.4" lengthAdjust="spacingAndGlyphs" stroke="#111" stroke-width="0.26">No Cloak</text>
<text x="1143.6" y="554" font-size="14.9" font-weight="bold" fill="#d8286f" textLength="82.4" lengthAdjust="spacingAndGlyphs" stroke="#d8286f" stroke-width="0.24">CD300a TASR</text>
<text x="1143.6" y="587.3" font-size="14.9" font-weight="bold" fill="#3a1787" textLength="29.7" lengthAdjust="spacingAndGlyphs" stroke="#3a1787" stroke-width="0.33">CD47</text>
<text x="1143.6" y="620.1" font-size="14.9" font-weight="bold" fill="#8f8f8f" textLength="41.8" lengthAdjust="spacingAndGlyphs" stroke="#8f8f8f" stroke-width="0.2">HLA-I+</text>
<text x="47.7" y="697" font-size="9.4" fill="#3391d3" textLength="757.8" lengthAdjust="spacingAndGlyphs">https://ashpublications.org/bloodadvances/article/doi/10.1182/bloodadvances.2024013436/518079/Universal-Protection-of-Allogeneic-T-Cell; https://www.centurytx.com/wp-</text>
<text x="47.7" y="710.2" font-size="9.4" fill="#3391d3" textLength="356.3" lengthAdjust="spacingAndGlyphs">content/uploads/ASH_Welstead_Universal-Protection-of-Allogenic-T-Cells-Final.pdf</text>
<path d="M47.7 699.3H805.5M47.7 712.5H404" stroke="#3391d3" stroke-width="0.8" fill="none"/>
<path d="M1111.3 686.9C1114.43 686.87 1118.28 687.57 1120.6 689.6C1122.92 691.63 1124.92 695.85 1125.2 699.1C1125.48 702.35 1124.3 706.65 1122.3 709.1C1120.3 711.55 1116.1 713.68 1113.2 713.8C1110.3 713.92 1107.42 712.67 1104.9 709.8C1102.38 706.93 1098.62 699.93 1098.1 696.6C1097.58 693.27 1099.6 691.42 1101.8 689.8C1104 688.18 1108.17 686.93 1111.3 686.9Z" fill="none" stroke="#46a6be" stroke-width="5.2"/>
<path d="M1111.36 687.77C1114.28 687.74 1117.86 688.39 1120.01 690.28C1122.16 692.17 1124.02 696.09 1124.29 699.12C1124.55 702.14 1123.45 706.14 1121.59 708.42C1119.73 710.7 1115.83 712.68 1113.13 712.79C1110.43 712.9 1107.75 711.73 1105.41 709.07C1103.07 706.4 1099.57 699.89 1099.09 696.79C1098.6 693.69 1100.48 691.97 1102.53 690.47C1104.57 688.96 1108.45 687.8 1111.36 687.77Z" fill="none" stroke="#4fd0cf" stroke-width="3"/>
<path d="M1111.3 686.9C1114.43 686.87 1118.28 687.57 1120.6 689.6C1122.92 691.63 1124.92 695.85 1125.2 699.1C1125.48 702.35 1124.3 706.65 1122.3 709.1C1120.3 711.55 1116.1 713.68 1113.2 713.8C1110.3 713.92 1107.42 712.67 1104.9 709.8C1102.38 706.93 1098.62 699.93 1098.1 696.6C1097.58 693.27 1099.6 691.42 1101.8 689.8C1104 688.18 1108.17 686.93 1111.3 686.9Z" fill="none" stroke="#2b8c9f" stroke-width="0.7"/>
<path d="M1111.39 688.14C1114.21 688.11 1117.67 688.74 1119.76 690.57C1121.84 692.4 1123.64 696.2 1123.9 699.12C1124.15 702.05 1123.09 705.92 1121.29 708.12C1119.49 710.33 1115.71 712.25 1113.1 712.35C1110.49 712.46 1107.89 711.33 1105.63 708.75C1103.36 706.17 1099.97 699.87 1099.51 696.87C1099.04 693.87 1100.86 692.21 1102.84 690.75C1104.82 689.3 1108.57 688.17 1111.39 688.14Z" fill="none" stroke="#2b9aa8" stroke-width="0.6"/>
<path d="M1111.46 689.14C1114.03 689.11 1117.18 689.69 1119.08 691.35C1120.98 693.02 1122.62 696.48 1122.86 699.14C1123.09 701.81 1122.12 705.33 1120.48 707.34C1118.84 709.35 1115.39 711.1 1113.02 711.2C1110.64 711.29 1108.27 710.27 1106.21 707.92C1104.15 705.57 1101.06 699.83 1100.63 697.09C1100.21 694.36 1101.86 692.84 1103.67 691.52C1105.47 690.19 1108.89 689.17 1111.46 689.14Z" fill="none" stroke="#a5e8da" stroke-width="1"/>
<text x="1132.8" y="701.8" font-size="15.9" font-weight="bold" fill="#222" textLength="82.9" lengthAdjust="spacingAndGlyphs">CENTURY</text>
<text x="1133.4" y="709.7" font-size="4.6" fill="#555" textLength="55.8" lengthAdjust="spacingAndGlyphs">THERAPEUTICS</text>
<text x="1240" y="704.2" font-size="12" fill="#222" textLength="6" lengthAdjust="spacingAndGlyphs" stroke="#222" stroke-width="0.09">7</text>
</svg>
</body></html>
